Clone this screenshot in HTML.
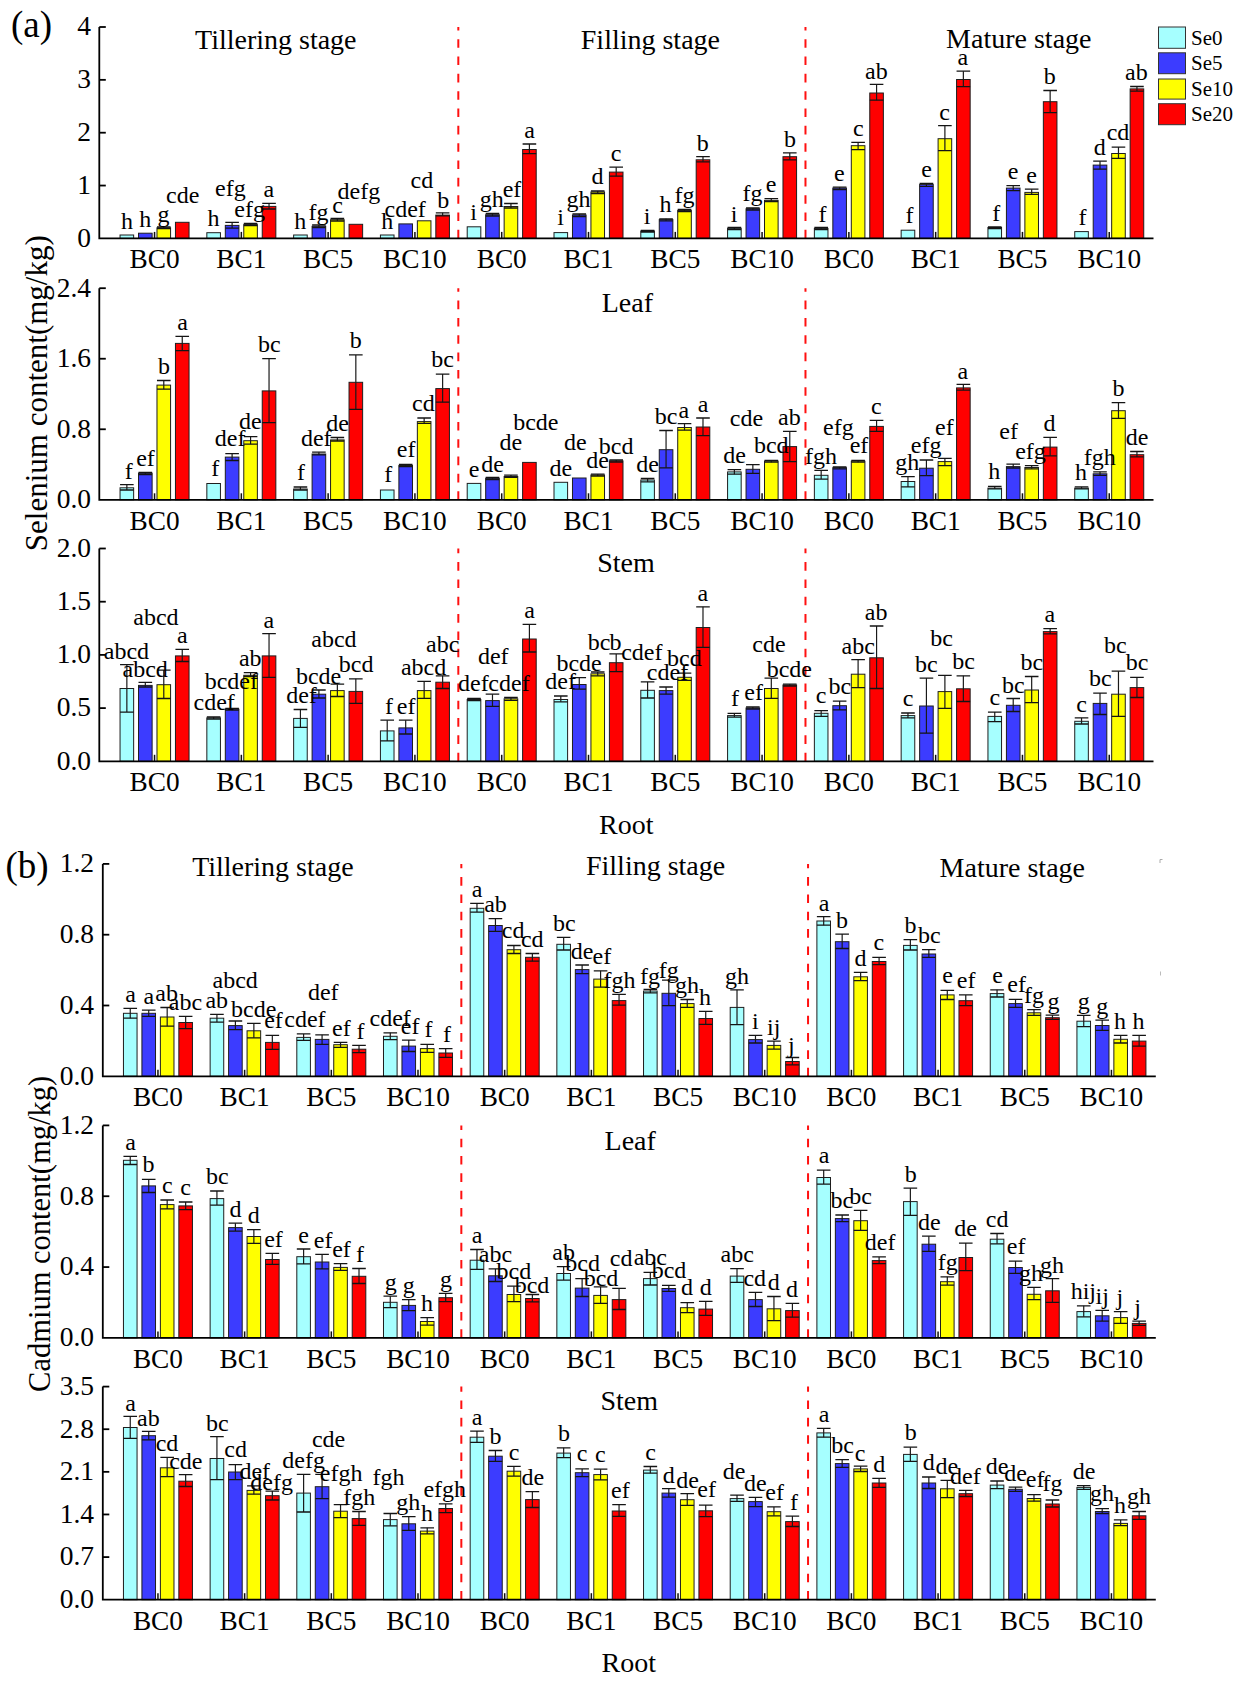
<!DOCTYPE html>
<html><head><meta charset="utf-8"><style>
html,body{margin:0;padding:0;background:#fff;width:1240px;height:1689px;overflow:hidden}
svg{display:block}
text{font-family:"Liberation Serif",serif;fill:#000}
</style></head><body>
<svg width="1240" height="1689" viewBox="0 0 1240 1689">
<rect width="1240" height="1689" fill="#fff"/>
<line x1="458.32" y1="238.4" x2="458.32" y2="27" stroke="#ff1010" stroke-width="2" stroke-dasharray="8.6 8.73"/>
<line x1="805.48" y1="238.4" x2="805.48" y2="27" stroke="#ff1010" stroke-width="2" stroke-dasharray="8.6 8.73"/>
<rect x="120.05" y="235" width="13.6" height="3.4" fill="#a6ffff" stroke="#1e1e1e" stroke-width="1"/>
<rect x="138.52" y="233.2" width="13.6" height="5.2" fill="#3c3cff" stroke="#1e1e1e" stroke-width="1"/>
<rect x="156.98" y="227.8" width="13.6" height="10.6" fill="#ffff00" stroke="#1e1e1e" stroke-width="1"/>
<rect x="175.45" y="222.3" width="13.6" height="16.1" fill="#ff0000" stroke="#1e1e1e" stroke-width="1"/>
<line x1="154.55" y1="231.9" x2="154.55" y2="238.4" stroke="#111" stroke-width="1.5"/>
<rect x="206.84" y="232.7" width="13.6" height="5.7" fill="#a6ffff" stroke="#1e1e1e" stroke-width="1"/>
<rect x="225.31" y="225.4" width="13.6" height="13" fill="#3c3cff" stroke="#1e1e1e" stroke-width="1"/>
<rect x="243.77" y="224.6" width="13.6" height="13.8" fill="#ffff00" stroke="#1e1e1e" stroke-width="1"/>
<rect x="262.24" y="206.4" width="13.6" height="32" fill="#ff0000" stroke="#1e1e1e" stroke-width="1"/>
<line x1="241.34" y1="231.9" x2="241.34" y2="238.4" stroke="#111" stroke-width="1.5"/>
<rect x="293.63" y="235" width="13.6" height="3.4" fill="#a6ffff" stroke="#1e1e1e" stroke-width="1"/>
<rect x="312.1" y="226.3" width="13.6" height="12.1" fill="#3c3cff" stroke="#1e1e1e" stroke-width="1"/>
<rect x="330.56" y="219.7" width="13.6" height="18.7" fill="#ffff00" stroke="#1e1e1e" stroke-width="1"/>
<rect x="349.03" y="224.3" width="13.6" height="14.1" fill="#ff0000" stroke="#1e1e1e" stroke-width="1"/>
<line x1="328.13" y1="231.9" x2="328.13" y2="238.4" stroke="#111" stroke-width="1.5"/>
<rect x="380.42" y="235" width="13.6" height="3.4" fill="#a6ffff" stroke="#1e1e1e" stroke-width="1"/>
<rect x="398.89" y="223.9" width="13.6" height="14.5" fill="#3c3cff" stroke="#1e1e1e" stroke-width="1"/>
<rect x="417.35" y="220.8" width="13.6" height="17.6" fill="#ffff00" stroke="#1e1e1e" stroke-width="1"/>
<rect x="435.82" y="215.1" width="13.6" height="23.3" fill="#ff0000" stroke="#1e1e1e" stroke-width="1"/>
<line x1="414.92" y1="231.9" x2="414.92" y2="238.4" stroke="#111" stroke-width="1.5"/>
<rect x="467.21" y="226.8" width="13.6" height="11.6" fill="#a6ffff" stroke="#1e1e1e" stroke-width="1"/>
<rect x="485.68" y="214.7" width="13.6" height="23.7" fill="#3c3cff" stroke="#1e1e1e" stroke-width="1"/>
<rect x="504.14" y="206.5" width="13.6" height="31.9" fill="#ffff00" stroke="#1e1e1e" stroke-width="1"/>
<rect x="522.61" y="149.5" width="13.6" height="88.9" fill="#ff0000" stroke="#1e1e1e" stroke-width="1"/>
<line x1="501.71" y1="231.9" x2="501.71" y2="238.4" stroke="#111" stroke-width="1.5"/>
<rect x="554" y="232.6" width="13.6" height="5.8" fill="#a6ffff" stroke="#1e1e1e" stroke-width="1"/>
<rect x="572.47" y="215" width="13.6" height="23.4" fill="#3c3cff" stroke="#1e1e1e" stroke-width="1"/>
<rect x="590.93" y="192" width="13.6" height="46.4" fill="#ffff00" stroke="#1e1e1e" stroke-width="1"/>
<rect x="609.4" y="172.1" width="13.6" height="66.3" fill="#ff0000" stroke="#1e1e1e" stroke-width="1"/>
<line x1="588.5" y1="231.9" x2="588.5" y2="238.4" stroke="#111" stroke-width="1.5"/>
<rect x="640.79" y="231.1" width="13.6" height="7.3" fill="#a6ffff" stroke="#1e1e1e" stroke-width="1"/>
<rect x="659.26" y="219.6" width="13.6" height="18.8" fill="#3c3cff" stroke="#1e1e1e" stroke-width="1"/>
<rect x="677.72" y="210.4" width="13.6" height="28" fill="#ffff00" stroke="#1e1e1e" stroke-width="1"/>
<rect x="696.19" y="159.8" width="13.6" height="78.6" fill="#ff0000" stroke="#1e1e1e" stroke-width="1"/>
<line x1="675.29" y1="231.9" x2="675.29" y2="238.4" stroke="#111" stroke-width="1.5"/>
<rect x="727.58" y="228.3" width="13.6" height="10.1" fill="#a6ffff" stroke="#1e1e1e" stroke-width="1"/>
<rect x="746.05" y="208.8" width="13.6" height="29.6" fill="#3c3cff" stroke="#1e1e1e" stroke-width="1"/>
<rect x="764.51" y="200.4" width="13.6" height="38" fill="#ffff00" stroke="#1e1e1e" stroke-width="1"/>
<rect x="782.98" y="156.7" width="13.6" height="81.7" fill="#ff0000" stroke="#1e1e1e" stroke-width="1"/>
<line x1="762.08" y1="231.9" x2="762.08" y2="238.4" stroke="#111" stroke-width="1.5"/>
<rect x="814.37" y="228.4" width="13.6" height="10" fill="#a6ffff" stroke="#1e1e1e" stroke-width="1"/>
<rect x="832.84" y="188.1" width="13.6" height="50.3" fill="#3c3cff" stroke="#1e1e1e" stroke-width="1"/>
<rect x="851.3" y="145.7" width="13.6" height="92.7" fill="#ffff00" stroke="#1e1e1e" stroke-width="1"/>
<rect x="869.77" y="93" width="13.6" height="145.4" fill="#ff0000" stroke="#1e1e1e" stroke-width="1"/>
<line x1="848.87" y1="231.9" x2="848.87" y2="238.4" stroke="#111" stroke-width="1.5"/>
<rect x="901.16" y="230.2" width="13.6" height="8.2" fill="#a6ffff" stroke="#1e1e1e" stroke-width="1"/>
<rect x="919.63" y="184.4" width="13.6" height="54" fill="#3c3cff" stroke="#1e1e1e" stroke-width="1"/>
<rect x="938.09" y="138.7" width="13.6" height="99.7" fill="#ffff00" stroke="#1e1e1e" stroke-width="1"/>
<rect x="956.56" y="79.5" width="13.6" height="158.9" fill="#ff0000" stroke="#1e1e1e" stroke-width="1"/>
<line x1="935.66" y1="231.9" x2="935.66" y2="238.4" stroke="#111" stroke-width="1.5"/>
<rect x="987.95" y="227.5" width="13.6" height="10.9" fill="#a6ffff" stroke="#1e1e1e" stroke-width="1"/>
<rect x="1006.42" y="188.1" width="13.6" height="50.3" fill="#3c3cff" stroke="#1e1e1e" stroke-width="1"/>
<rect x="1024.88" y="192.4" width="13.6" height="46" fill="#ffff00" stroke="#1e1e1e" stroke-width="1"/>
<rect x="1043.35" y="101.7" width="13.6" height="136.7" fill="#ff0000" stroke="#1e1e1e" stroke-width="1"/>
<line x1="1022.45" y1="231.9" x2="1022.45" y2="238.4" stroke="#111" stroke-width="1.5"/>
<rect x="1074.74" y="231.6" width="13.6" height="6.8" fill="#a6ffff" stroke="#1e1e1e" stroke-width="1"/>
<rect x="1093.21" y="165.1" width="13.6" height="73.3" fill="#3c3cff" stroke="#1e1e1e" stroke-width="1"/>
<rect x="1111.67" y="153.5" width="13.6" height="84.9" fill="#ffff00" stroke="#1e1e1e" stroke-width="1"/>
<rect x="1130.14" y="88.9" width="13.6" height="149.5" fill="#ff0000" stroke="#1e1e1e" stroke-width="1"/>
<line x1="1109.24" y1="231.9" x2="1109.24" y2="238.4" stroke="#111" stroke-width="1.5"/>
<path d="M163.78 227V228.6" stroke="#1a1a1a" stroke-width="1.2" fill="none"/>
<path d="M156.98 227H170.58M156.98 228.6H170.58" stroke="#141414" stroke-width="1.3" fill="none"/>
<path d="M232.11 222.3V228.1" stroke="#1a1a1a" stroke-width="1.2" fill="none"/>
<path d="M225.31 222.3H238.91M225.31 228.1H238.91" stroke="#141414" stroke-width="1.3" fill="none"/>
<path d="M250.57 223.5V225.5" stroke="#1a1a1a" stroke-width="1.2" fill="none"/>
<path d="M243.77 223.5H257.37M243.77 225.5H257.37" stroke="#141414" stroke-width="1.3" fill="none"/>
<path d="M269.04 203.3V209" stroke="#1a1a1a" stroke-width="1.2" fill="none"/>
<path d="M262.24 203.3H275.84M262.24 209H275.84" stroke="#141414" stroke-width="1.3" fill="none"/>
<path d="M318.9 225V227.5" stroke="#1a1a1a" stroke-width="1.2" fill="none"/>
<path d="M312.1 225H325.7M312.1 227.5H325.7" stroke="#141414" stroke-width="1.3" fill="none"/>
<path d="M337.36 218.5V221" stroke="#1a1a1a" stroke-width="1.2" fill="none"/>
<path d="M330.56 218.5H344.16M330.56 221H344.16" stroke="#141414" stroke-width="1.3" fill="none"/>
<path d="M442.62 212.8V215.9" stroke="#1a1a1a" stroke-width="1.2" fill="none"/>
<path d="M435.82 212.8H449.42M435.82 215.9H449.42" stroke="#141414" stroke-width="1.3" fill="none"/>
<path d="M492.48 213.5V216" stroke="#1a1a1a" stroke-width="1.2" fill="none"/>
<path d="M485.68 213.5H499.28M485.68 216H499.28" stroke="#141414" stroke-width="1.3" fill="none"/>
<path d="M510.94 203.5V208" stroke="#1a1a1a" stroke-width="1.2" fill="none"/>
<path d="M504.14 203.5H517.74M504.14 208H517.74" stroke="#141414" stroke-width="1.3" fill="none"/>
<path d="M529.41 144V153.7" stroke="#1a1a1a" stroke-width="1.2" fill="none"/>
<path d="M522.61 144H536.21M522.61 153.7H536.21" stroke="#141414" stroke-width="1.3" fill="none"/>
<path d="M579.27 214V216.5" stroke="#1a1a1a" stroke-width="1.2" fill="none"/>
<path d="M572.47 214H586.07M572.47 216.5H586.07" stroke="#141414" stroke-width="1.3" fill="none"/>
<path d="M597.73 191V193.5" stroke="#1a1a1a" stroke-width="1.2" fill="none"/>
<path d="M590.93 191H604.53M590.93 193.5H604.53" stroke="#141414" stroke-width="1.3" fill="none"/>
<path d="M616.2 167.2V176.2" stroke="#1a1a1a" stroke-width="1.2" fill="none"/>
<path d="M609.4 167.2H623M609.4 176.2H623" stroke="#141414" stroke-width="1.3" fill="none"/>
<path d="M647.59 230.5V232" stroke="#1a1a1a" stroke-width="1.2" fill="none"/>
<path d="M640.79 230.5H654.39M640.79 232H654.39" stroke="#141414" stroke-width="1.3" fill="none"/>
<path d="M666.06 218.8V220.8" stroke="#1a1a1a" stroke-width="1.2" fill="none"/>
<path d="M659.26 218.8H672.86M659.26 220.8H672.86" stroke="#141414" stroke-width="1.3" fill="none"/>
<path d="M684.52 209.5V211.5" stroke="#1a1a1a" stroke-width="1.2" fill="none"/>
<path d="M677.72 209.5H691.32M677.72 211.5H691.32" stroke="#141414" stroke-width="1.3" fill="none"/>
<path d="M702.99 156.7V161.8" stroke="#1a1a1a" stroke-width="1.2" fill="none"/>
<path d="M696.19 156.7H709.79M696.19 161.8H709.79" stroke="#141414" stroke-width="1.3" fill="none"/>
<path d="M734.38 227.5V229.5" stroke="#1a1a1a" stroke-width="1.2" fill="none"/>
<path d="M727.58 227.5H741.18M727.58 229.5H741.18" stroke="#141414" stroke-width="1.3" fill="none"/>
<path d="M752.85 208V210" stroke="#1a1a1a" stroke-width="1.2" fill="none"/>
<path d="M746.05 208H759.65M746.05 210H759.65" stroke="#141414" stroke-width="1.3" fill="none"/>
<path d="M771.31 198.6V201.6" stroke="#1a1a1a" stroke-width="1.2" fill="none"/>
<path d="M764.51 198.6H778.11M764.51 201.6H778.11" stroke="#141414" stroke-width="1.3" fill="none"/>
<path d="M789.78 152.9V159.8" stroke="#1a1a1a" stroke-width="1.2" fill="none"/>
<path d="M782.98 152.9H796.58M782.98 159.8H796.58" stroke="#141414" stroke-width="1.3" fill="none"/>
<path d="M821.17 227.5V229.5" stroke="#1a1a1a" stroke-width="1.2" fill="none"/>
<path d="M814.37 227.5H827.97M814.37 229.5H827.97" stroke="#141414" stroke-width="1.3" fill="none"/>
<path d="M839.64 187.2V189.5" stroke="#1a1a1a" stroke-width="1.2" fill="none"/>
<path d="M832.84 187.2H846.44M832.84 189.5H846.44" stroke="#141414" stroke-width="1.3" fill="none"/>
<path d="M858.1 142.3V149.6" stroke="#1a1a1a" stroke-width="1.2" fill="none"/>
<path d="M851.3 142.3H864.9M851.3 149.6H864.9" stroke="#141414" stroke-width="1.3" fill="none"/>
<path d="M876.57 84.3V100.2" stroke="#1a1a1a" stroke-width="1.2" fill="none"/>
<path d="M869.77 84.3H883.37M869.77 100.2H883.37" stroke="#141414" stroke-width="1.3" fill="none"/>
<path d="M926.43 183.4V186.3" stroke="#1a1a1a" stroke-width="1.2" fill="none"/>
<path d="M919.63 183.4H933.23M919.63 186.3H933.23" stroke="#141414" stroke-width="1.3" fill="none"/>
<path d="M944.89 125.6V150.6" stroke="#1a1a1a" stroke-width="1.2" fill="none"/>
<path d="M938.09 125.6H951.69M938.09 150.6H951.69" stroke="#141414" stroke-width="1.3" fill="none"/>
<path d="M963.36 71.2V86.7" stroke="#1a1a1a" stroke-width="1.2" fill="none"/>
<path d="M956.56 71.2H970.16M956.56 86.7H970.16" stroke="#141414" stroke-width="1.3" fill="none"/>
<path d="M994.75 227V228.5" stroke="#1a1a1a" stroke-width="1.2" fill="none"/>
<path d="M987.95 227H1001.55M987.95 228.5H1001.55" stroke="#141414" stroke-width="1.3" fill="none"/>
<path d="M1013.22 185.6V190.7" stroke="#1a1a1a" stroke-width="1.2" fill="none"/>
<path d="M1006.42 185.6H1020.02M1006.42 190.7H1020.02" stroke="#141414" stroke-width="1.3" fill="none"/>
<path d="M1031.68 189.2V194.3" stroke="#1a1a1a" stroke-width="1.2" fill="none"/>
<path d="M1024.88 189.2H1038.48M1024.88 194.3H1038.48" stroke="#141414" stroke-width="1.3" fill="none"/>
<path d="M1050.15 90.5V112.6" stroke="#1a1a1a" stroke-width="1.2" fill="none"/>
<path d="M1043.35 90.5H1056.95M1043.35 112.6H1056.95" stroke="#141414" stroke-width="1.3" fill="none"/>
<path d="M1100.01 161.2V169.2" stroke="#1a1a1a" stroke-width="1.2" fill="none"/>
<path d="M1093.21 161.2H1106.81M1093.21 169.2H1106.81" stroke="#141414" stroke-width="1.3" fill="none"/>
<path d="M1118.47 147.1V158.3" stroke="#1a1a1a" stroke-width="1.2" fill="none"/>
<path d="M1111.67 147.1H1125.27M1111.67 158.3H1125.27" stroke="#141414" stroke-width="1.3" fill="none"/>
<path d="M1136.94 86.5V91.1" stroke="#1a1a1a" stroke-width="1.2" fill="none"/>
<path d="M1130.14 86.5H1143.74M1130.14 91.1H1143.74" stroke="#141414" stroke-width="1.3" fill="none"/>
<text x="127" y="228.5" font-size="24" text-anchor="middle">h</text>
<text x="145.2" y="226.6" font-size="24" text-anchor="middle">h</text>
<text x="163.6" y="222" font-size="24" text-anchor="middle">g</text>
<text x="182.7" y="202.9" font-size="24" text-anchor="middle">cde</text>
<text x="213.4" y="226.3" font-size="24" text-anchor="middle">h</text>
<text x="230.4" y="196" font-size="24" text-anchor="middle">efg</text>
<text x="249.6" y="217.4" font-size="24" text-anchor="middle">efg</text>
<text x="268.9" y="196.7" font-size="24" text-anchor="middle">a</text>
<text x="300.2" y="228.9" font-size="24" text-anchor="middle">h</text>
<text x="318.6" y="219.7" font-size="24" text-anchor="middle">fg</text>
<text x="337.5" y="212.8" font-size="24" text-anchor="middle">c</text>
<text x="358.9" y="198.7" font-size="24" text-anchor="middle">defg</text>
<text x="387.3" y="228.9" font-size="24" text-anchor="middle">h</text>
<text x="405.2" y="217.4" font-size="24" text-anchor="middle">cdef</text>
<text x="421.9" y="187.5" font-size="24" text-anchor="middle">cd</text>
<text x="443.2" y="207.5" font-size="24" text-anchor="middle">b</text>
<text x="473.7" y="219.6" font-size="24" text-anchor="middle">i</text>
<text x="491.8" y="207.3" font-size="24" text-anchor="middle">gh</text>
<text x="512" y="197.3" font-size="24" text-anchor="middle">ef</text>
<text x="529.6" y="137.6" font-size="24" text-anchor="middle">a</text>
<text x="560.7" y="224.9" font-size="24" text-anchor="middle">i</text>
<text x="578.4" y="207.3" font-size="24" text-anchor="middle">gh</text>
<text x="597.5" y="184.3" font-size="24" text-anchor="middle">d</text>
<text x="616.2" y="160.6" font-size="24" text-anchor="middle">c</text>
<text x="647.2" y="224.2" font-size="24" text-anchor="middle">i</text>
<text x="665.5" y="212.4" font-size="24" text-anchor="middle">h</text>
<text x="684.4" y="202.7" font-size="24" text-anchor="middle">fg</text>
<text x="702.8" y="151.4" font-size="24" text-anchor="middle">b</text>
<text x="734.2" y="221.9" font-size="24" text-anchor="middle">i</text>
<text x="752.6" y="201.2" font-size="24" text-anchor="middle">fg</text>
<text x="771" y="192" font-size="24" text-anchor="middle">e</text>
<text x="790.1" y="146.8" font-size="24" text-anchor="middle">b</text>
<text x="822.4" y="222.2" font-size="24" text-anchor="middle">f</text>
<text x="839.4" y="181.1" font-size="24" text-anchor="middle">e</text>
<text x="858.3" y="135.8" font-size="24" text-anchor="middle">c</text>
<text x="876.4" y="78.5" font-size="24" text-anchor="middle">ab</text>
<text x="909.5" y="223.2" font-size="24" text-anchor="middle">f</text>
<text x="926.5" y="177.2" font-size="24" text-anchor="middle">e</text>
<text x="944.6" y="119.8" font-size="24" text-anchor="middle">c</text>
<text x="962.8" y="65" font-size="24" text-anchor="middle">a</text>
<text x="996.3" y="220.7" font-size="24" text-anchor="middle">f</text>
<text x="1013" y="179.4" font-size="24" text-anchor="middle">e</text>
<text x="1031.6" y="183" font-size="24" text-anchor="middle">e</text>
<text x="1049.8" y="83.5" font-size="24" text-anchor="middle">b</text>
<text x="1082.4" y="225" font-size="24" text-anchor="middle">f</text>
<text x="1099.8" y="154.7" font-size="24" text-anchor="middle">d</text>
<text x="1118" y="140.2" font-size="24" text-anchor="middle">cd</text>
<text x="1136.4" y="79.9" font-size="24" text-anchor="middle">ab</text>
<path d="M99.3 27V238.4H1153.5" stroke="#000" stroke-width="1.8" fill="none"/>
<text x="91" y="246.7" font-size="27.5" text-anchor="end">0</text>
<line x1="99.3" y1="185.55" x2="105.8" y2="185.55" stroke="#000" stroke-width="1.8"/>
<text x="91" y="193.85" font-size="27.5" text-anchor="end">1</text>
<line x1="99.3" y1="132.7" x2="105.8" y2="132.7" stroke="#000" stroke-width="1.8"/>
<text x="91" y="141" font-size="27.5" text-anchor="end">2</text>
<line x1="99.3" y1="79.85" x2="105.8" y2="79.85" stroke="#000" stroke-width="1.8"/>
<text x="91" y="88.15" font-size="27.5" text-anchor="end">3</text>
<line x1="99.3" y1="27" x2="105.8" y2="27" stroke="#000" stroke-width="1.8"/>
<text x="91" y="35.3" font-size="27.5" text-anchor="end">4</text>
<text x="154.55" y="268.2" font-size="27.3" text-anchor="middle">BC0</text>
<text x="241.34" y="268.2" font-size="27.3" text-anchor="middle">BC1</text>
<text x="328.13" y="268.2" font-size="27.3" text-anchor="middle">BC5</text>
<text x="414.92" y="268.2" font-size="27.3" text-anchor="middle">BC10</text>
<text x="501.71" y="268.2" font-size="27.3" text-anchor="middle">BC0</text>
<text x="588.5" y="268.2" font-size="27.3" text-anchor="middle">BC1</text>
<text x="675.29" y="268.2" font-size="27.3" text-anchor="middle">BC5</text>
<text x="762.08" y="268.2" font-size="27.3" text-anchor="middle">BC10</text>
<text x="848.87" y="268.2" font-size="27.3" text-anchor="middle">BC0</text>
<text x="935.66" y="268.2" font-size="27.3" text-anchor="middle">BC1</text>
<text x="1022.45" y="268.2" font-size="27.3" text-anchor="middle">BC5</text>
<text x="1109.24" y="268.2" font-size="27.3" text-anchor="middle">BC10</text>
<line x1="458.32" y1="499.8" x2="458.32" y2="288.2" stroke="#ff1010" stroke-width="2" stroke-dasharray="8.6 8.73"/>
<line x1="805.48" y1="499.8" x2="805.48" y2="288.2" stroke="#ff1010" stroke-width="2" stroke-dasharray="8.6 8.73"/>
<rect x="120.05" y="487.8" width="13.6" height="12" fill="#a6ffff" stroke="#1e1e1e" stroke-width="1"/>
<rect x="138.52" y="473.2" width="13.6" height="26.6" fill="#3c3cff" stroke="#1e1e1e" stroke-width="1"/>
<rect x="156.98" y="385.1" width="13.6" height="114.7" fill="#ffff00" stroke="#1e1e1e" stroke-width="1"/>
<rect x="175.45" y="343.4" width="13.6" height="156.4" fill="#ff0000" stroke="#1e1e1e" stroke-width="1"/>
<line x1="154.55" y1="493.3" x2="154.55" y2="499.8" stroke="#111" stroke-width="1.5"/>
<rect x="206.84" y="483.5" width="13.6" height="16.3" fill="#a6ffff" stroke="#1e1e1e" stroke-width="1"/>
<rect x="225.31" y="457.1" width="13.6" height="42.7" fill="#3c3cff" stroke="#1e1e1e" stroke-width="1"/>
<rect x="243.77" y="440.7" width="13.6" height="59.1" fill="#ffff00" stroke="#1e1e1e" stroke-width="1"/>
<rect x="262.24" y="390.9" width="13.6" height="108.9" fill="#ff0000" stroke="#1e1e1e" stroke-width="1"/>
<line x1="241.34" y1="493.3" x2="241.34" y2="499.8" stroke="#111" stroke-width="1.5"/>
<rect x="293.63" y="489" width="13.6" height="10.8" fill="#a6ffff" stroke="#1e1e1e" stroke-width="1"/>
<rect x="312.1" y="454" width="13.6" height="45.8" fill="#3c3cff" stroke="#1e1e1e" stroke-width="1"/>
<rect x="330.56" y="439.9" width="13.6" height="59.9" fill="#ffff00" stroke="#1e1e1e" stroke-width="1"/>
<rect x="349.03" y="382.3" width="13.6" height="117.5" fill="#ff0000" stroke="#1e1e1e" stroke-width="1"/>
<line x1="328.13" y1="493.3" x2="328.13" y2="499.8" stroke="#111" stroke-width="1.5"/>
<rect x="380.42" y="490" width="13.6" height="9.8" fill="#a6ffff" stroke="#1e1e1e" stroke-width="1"/>
<rect x="398.89" y="465.5" width="13.6" height="34.3" fill="#3c3cff" stroke="#1e1e1e" stroke-width="1"/>
<rect x="417.35" y="421.6" width="13.6" height="78.2" fill="#ffff00" stroke="#1e1e1e" stroke-width="1"/>
<rect x="435.82" y="388.6" width="13.6" height="111.2" fill="#ff0000" stroke="#1e1e1e" stroke-width="1"/>
<line x1="414.92" y1="493.3" x2="414.92" y2="499.8" stroke="#111" stroke-width="1.5"/>
<rect x="467.21" y="483.4" width="13.6" height="16.4" fill="#a6ffff" stroke="#1e1e1e" stroke-width="1"/>
<rect x="485.68" y="478.3" width="13.6" height="21.5" fill="#3c3cff" stroke="#1e1e1e" stroke-width="1"/>
<rect x="504.14" y="476.5" width="13.6" height="23.3" fill="#ffff00" stroke="#1e1e1e" stroke-width="1"/>
<rect x="522.61" y="462.4" width="13.6" height="37.4" fill="#ff0000" stroke="#1e1e1e" stroke-width="1"/>
<line x1="501.71" y1="493.3" x2="501.71" y2="499.8" stroke="#111" stroke-width="1.5"/>
<rect x="554" y="482.3" width="13.6" height="17.5" fill="#a6ffff" stroke="#1e1e1e" stroke-width="1"/>
<rect x="572.47" y="478" width="13.6" height="21.8" fill="#3c3cff" stroke="#1e1e1e" stroke-width="1"/>
<rect x="590.93" y="475" width="13.6" height="24.8" fill="#ffff00" stroke="#1e1e1e" stroke-width="1"/>
<rect x="609.4" y="460.9" width="13.6" height="38.9" fill="#ff0000" stroke="#1e1e1e" stroke-width="1"/>
<line x1="588.5" y1="493.3" x2="588.5" y2="499.8" stroke="#111" stroke-width="1.5"/>
<rect x="640.79" y="480" width="13.6" height="19.8" fill="#a6ffff" stroke="#1e1e1e" stroke-width="1"/>
<rect x="659.26" y="449.7" width="13.6" height="50.1" fill="#3c3cff" stroke="#1e1e1e" stroke-width="1"/>
<rect x="677.72" y="427.5" width="13.6" height="72.3" fill="#ffff00" stroke="#1e1e1e" stroke-width="1"/>
<rect x="696.19" y="427" width="13.6" height="72.8" fill="#ff0000" stroke="#1e1e1e" stroke-width="1"/>
<line x1="675.29" y1="493.3" x2="675.29" y2="499.8" stroke="#111" stroke-width="1.5"/>
<rect x="727.58" y="471.9" width="13.6" height="27.9" fill="#a6ffff" stroke="#1e1e1e" stroke-width="1"/>
<rect x="746.05" y="469.3" width="13.6" height="30.5" fill="#3c3cff" stroke="#1e1e1e" stroke-width="1"/>
<rect x="764.51" y="461.2" width="13.6" height="38.6" fill="#ffff00" stroke="#1e1e1e" stroke-width="1"/>
<rect x="782.98" y="446.6" width="13.6" height="53.2" fill="#ff0000" stroke="#1e1e1e" stroke-width="1"/>
<line x1="762.08" y1="493.3" x2="762.08" y2="499.8" stroke="#111" stroke-width="1.5"/>
<rect x="814.37" y="475.3" width="13.6" height="24.5" fill="#a6ffff" stroke="#1e1e1e" stroke-width="1"/>
<rect x="832.84" y="467.7" width="13.6" height="32.1" fill="#3c3cff" stroke="#1e1e1e" stroke-width="1"/>
<rect x="851.3" y="461.2" width="13.6" height="38.6" fill="#ffff00" stroke="#1e1e1e" stroke-width="1"/>
<rect x="869.77" y="426.4" width="13.6" height="73.4" fill="#ff0000" stroke="#1e1e1e" stroke-width="1"/>
<line x1="848.87" y1="493.3" x2="848.87" y2="499.8" stroke="#111" stroke-width="1.5"/>
<rect x="901.16" y="481.5" width="13.6" height="18.3" fill="#a6ffff" stroke="#1e1e1e" stroke-width="1"/>
<rect x="919.63" y="468.2" width="13.6" height="31.6" fill="#3c3cff" stroke="#1e1e1e" stroke-width="1"/>
<rect x="938.09" y="461.6" width="13.6" height="38.2" fill="#ffff00" stroke="#1e1e1e" stroke-width="1"/>
<rect x="956.56" y="387.9" width="13.6" height="111.9" fill="#ff0000" stroke="#1e1e1e" stroke-width="1"/>
<line x1="935.66" y1="493.3" x2="935.66" y2="499.8" stroke="#111" stroke-width="1.5"/>
<rect x="987.95" y="488.1" width="13.6" height="11.7" fill="#a6ffff" stroke="#1e1e1e" stroke-width="1"/>
<rect x="1006.42" y="466.6" width="13.6" height="33.2" fill="#3c3cff" stroke="#1e1e1e" stroke-width="1"/>
<rect x="1024.88" y="467.5" width="13.6" height="32.3" fill="#ffff00" stroke="#1e1e1e" stroke-width="1"/>
<rect x="1043.35" y="447.1" width="13.6" height="52.7" fill="#ff0000" stroke="#1e1e1e" stroke-width="1"/>
<line x1="1022.45" y1="493.3" x2="1022.45" y2="499.8" stroke="#111" stroke-width="1.5"/>
<rect x="1074.74" y="488.1" width="13.6" height="11.7" fill="#a6ffff" stroke="#1e1e1e" stroke-width="1"/>
<rect x="1093.21" y="473.8" width="13.6" height="26" fill="#3c3cff" stroke="#1e1e1e" stroke-width="1"/>
<rect x="1111.67" y="410.7" width="13.6" height="89.1" fill="#ffff00" stroke="#1e1e1e" stroke-width="1"/>
<rect x="1130.14" y="454.7" width="13.6" height="45.1" fill="#ff0000" stroke="#1e1e1e" stroke-width="1"/>
<line x1="1109.24" y1="493.3" x2="1109.24" y2="499.8" stroke="#111" stroke-width="1.5"/>
<path d="M126.85 484.7V490" stroke="#1a1a1a" stroke-width="1.2" fill="none"/>
<path d="M120.05 484.7H133.65M120.05 490H133.65" stroke="#141414" stroke-width="1.3" fill="none"/>
<path d="M145.32 472.5V474.5" stroke="#1a1a1a" stroke-width="1.2" fill="none"/>
<path d="M138.52 472.5H152.12M138.52 474.5H152.12" stroke="#141414" stroke-width="1.3" fill="none"/>
<path d="M163.78 380.5V389.2" stroke="#1a1a1a" stroke-width="1.2" fill="none"/>
<path d="M156.98 380.5H170.58M156.98 389.2H170.58" stroke="#141414" stroke-width="1.3" fill="none"/>
<path d="M182.25 336.4V350.6" stroke="#1a1a1a" stroke-width="1.2" fill="none"/>
<path d="M175.45 336.4H189.05M175.45 350.6H189.05" stroke="#141414" stroke-width="1.3" fill="none"/>
<path d="M232.11 453.7V460.5" stroke="#1a1a1a" stroke-width="1.2" fill="none"/>
<path d="M225.31 453.7H238.91M225.31 460.5H238.91" stroke="#141414" stroke-width="1.3" fill="none"/>
<path d="M250.57 436.6V444.2" stroke="#1a1a1a" stroke-width="1.2" fill="none"/>
<path d="M243.77 436.6H257.37M243.77 444.2H257.37" stroke="#141414" stroke-width="1.3" fill="none"/>
<path d="M269.04 358.7V422.6" stroke="#1a1a1a" stroke-width="1.2" fill="none"/>
<path d="M262.24 358.7H275.84M262.24 422.6H275.84" stroke="#141414" stroke-width="1.3" fill="none"/>
<path d="M300.43 487V490" stroke="#1a1a1a" stroke-width="1.2" fill="none"/>
<path d="M293.63 487H307.23M293.63 490H307.23" stroke="#141414" stroke-width="1.3" fill="none"/>
<path d="M318.9 452.2V454.8" stroke="#1a1a1a" stroke-width="1.2" fill="none"/>
<path d="M312.1 452.2H325.7M312.1 454.8H325.7" stroke="#141414" stroke-width="1.3" fill="none"/>
<path d="M337.36 437.5V441" stroke="#1a1a1a" stroke-width="1.2" fill="none"/>
<path d="M330.56 437.5H344.16M330.56 441H344.16" stroke="#141414" stroke-width="1.3" fill="none"/>
<path d="M355.83 354.9V409.3" stroke="#1a1a1a" stroke-width="1.2" fill="none"/>
<path d="M349.03 354.9H362.63M349.03 409.3H362.63" stroke="#141414" stroke-width="1.3" fill="none"/>
<path d="M405.69 464.5V466.6" stroke="#1a1a1a" stroke-width="1.2" fill="none"/>
<path d="M398.89 464.5H412.49M398.89 466.6H412.49" stroke="#141414" stroke-width="1.3" fill="none"/>
<path d="M424.15 418V423.4" stroke="#1a1a1a" stroke-width="1.2" fill="none"/>
<path d="M417.35 418H430.95M417.35 423.4H430.95" stroke="#141414" stroke-width="1.3" fill="none"/>
<path d="M442.62 374.1V402.2" stroke="#1a1a1a" stroke-width="1.2" fill="none"/>
<path d="M435.82 374.1H449.42M435.82 402.2H449.42" stroke="#141414" stroke-width="1.3" fill="none"/>
<path d="M492.48 477.5V479.5" stroke="#1a1a1a" stroke-width="1.2" fill="none"/>
<path d="M485.68 477.5H499.28M485.68 479.5H499.28" stroke="#141414" stroke-width="1.3" fill="none"/>
<path d="M510.94 475.1V477.3" stroke="#1a1a1a" stroke-width="1.2" fill="none"/>
<path d="M504.14 475.1H517.74M504.14 477.3H517.74" stroke="#141414" stroke-width="1.3" fill="none"/>
<path d="M597.73 474.2V476" stroke="#1a1a1a" stroke-width="1.2" fill="none"/>
<path d="M590.93 474.2H604.53M590.93 476H604.53" stroke="#141414" stroke-width="1.3" fill="none"/>
<path d="M616.2 460V462" stroke="#1a1a1a" stroke-width="1.2" fill="none"/>
<path d="M609.4 460H623M609.4 462H623" stroke="#141414" stroke-width="1.3" fill="none"/>
<path d="M647.59 478.5V481.9" stroke="#1a1a1a" stroke-width="1.2" fill="none"/>
<path d="M640.79 478.5H654.39M640.79 481.9H654.39" stroke="#141414" stroke-width="1.3" fill="none"/>
<path d="M666.06 430.5V467.8" stroke="#1a1a1a" stroke-width="1.2" fill="none"/>
<path d="M659.26 430.5H672.86M659.26 467.8H672.86" stroke="#141414" stroke-width="1.3" fill="none"/>
<path d="M684.52 423.6V430.2" stroke="#1a1a1a" stroke-width="1.2" fill="none"/>
<path d="M677.72 423.6H691.32M677.72 430.2H691.32" stroke="#141414" stroke-width="1.3" fill="none"/>
<path d="M702.99 418V435.6" stroke="#1a1a1a" stroke-width="1.2" fill="none"/>
<path d="M696.19 418H709.79M696.19 435.6H709.79" stroke="#141414" stroke-width="1.3" fill="none"/>
<path d="M734.38 469.6V474.2" stroke="#1a1a1a" stroke-width="1.2" fill="none"/>
<path d="M727.58 469.6H741.18M727.58 474.2H741.18" stroke="#141414" stroke-width="1.3" fill="none"/>
<path d="M752.85 464.7V473.4" stroke="#1a1a1a" stroke-width="1.2" fill="none"/>
<path d="M746.05 464.7H759.65M746.05 473.4H759.65" stroke="#141414" stroke-width="1.3" fill="none"/>
<path d="M771.31 460.3V462.2" stroke="#1a1a1a" stroke-width="1.2" fill="none"/>
<path d="M764.51 460.3H778.11M764.51 462.2H778.11" stroke="#141414" stroke-width="1.3" fill="none"/>
<path d="M789.78 431.3V461.6" stroke="#1a1a1a" stroke-width="1.2" fill="none"/>
<path d="M782.98 431.3H796.58M782.98 461.6H796.58" stroke="#141414" stroke-width="1.3" fill="none"/>
<path d="M821.17 470.4V479.1" stroke="#1a1a1a" stroke-width="1.2" fill="none"/>
<path d="M814.37 470.4H827.97M814.37 479.1H827.97" stroke="#141414" stroke-width="1.3" fill="none"/>
<path d="M839.64 467V468.8" stroke="#1a1a1a" stroke-width="1.2" fill="none"/>
<path d="M832.84 467H846.44M832.84 468.8H846.44" stroke="#141414" stroke-width="1.3" fill="none"/>
<path d="M858.1 460.3V462.2" stroke="#1a1a1a" stroke-width="1.2" fill="none"/>
<path d="M851.3 460.3H864.9M851.3 462.2H864.9" stroke="#141414" stroke-width="1.3" fill="none"/>
<path d="M876.57 420.3V431.4" stroke="#1a1a1a" stroke-width="1.2" fill="none"/>
<path d="M869.77 420.3H883.37M869.77 431.4H883.37" stroke="#141414" stroke-width="1.3" fill="none"/>
<path d="M907.96 476.7V486.9" stroke="#1a1a1a" stroke-width="1.2" fill="none"/>
<path d="M901.16 476.7H914.76M901.16 486.9H914.76" stroke="#141414" stroke-width="1.3" fill="none"/>
<path d="M926.43 460V475.7" stroke="#1a1a1a" stroke-width="1.2" fill="none"/>
<path d="M919.63 460H933.23M919.63 475.7H933.23" stroke="#141414" stroke-width="1.3" fill="none"/>
<path d="M944.89 458.3V465.6" stroke="#1a1a1a" stroke-width="1.2" fill="none"/>
<path d="M938.09 458.3H951.69M938.09 465.6H951.69" stroke="#141414" stroke-width="1.3" fill="none"/>
<path d="M963.36 384.3V390.1" stroke="#1a1a1a" stroke-width="1.2" fill="none"/>
<path d="M956.56 384.3H970.16M956.56 390.1H970.16" stroke="#141414" stroke-width="1.3" fill="none"/>
<path d="M994.75 486.3V488.8" stroke="#1a1a1a" stroke-width="1.2" fill="none"/>
<path d="M987.95 486.3H1001.55M987.95 488.8H1001.55" stroke="#141414" stroke-width="1.3" fill="none"/>
<path d="M1013.22 464.1V468" stroke="#1a1a1a" stroke-width="1.2" fill="none"/>
<path d="M1006.42 464.1H1020.02M1006.42 468H1020.02" stroke="#141414" stroke-width="1.3" fill="none"/>
<path d="M1031.68 465.6V468.8" stroke="#1a1a1a" stroke-width="1.2" fill="none"/>
<path d="M1024.88 465.6H1038.48M1024.88 468.8H1038.48" stroke="#141414" stroke-width="1.3" fill="none"/>
<path d="M1050.15 437.3V455.8" stroke="#1a1a1a" stroke-width="1.2" fill="none"/>
<path d="M1043.35 437.3H1056.95M1043.35 455.8H1056.95" stroke="#141414" stroke-width="1.3" fill="none"/>
<path d="M1081.54 486.9V488.8" stroke="#1a1a1a" stroke-width="1.2" fill="none"/>
<path d="M1074.74 486.9H1088.34M1074.74 488.8H1088.34" stroke="#141414" stroke-width="1.3" fill="none"/>
<path d="M1100.01 471.8V475.3" stroke="#1a1a1a" stroke-width="1.2" fill="none"/>
<path d="M1093.21 471.8H1106.81M1093.21 475.3H1106.81" stroke="#141414" stroke-width="1.3" fill="none"/>
<path d="M1118.47 402.7V418.4" stroke="#1a1a1a" stroke-width="1.2" fill="none"/>
<path d="M1111.67 402.7H1125.27M1111.67 418.4H1125.27" stroke="#141414" stroke-width="1.3" fill="none"/>
<path d="M1136.94 451.5V456.9" stroke="#1a1a1a" stroke-width="1.2" fill="none"/>
<path d="M1130.14 451.5H1143.74M1130.14 456.9H1143.74" stroke="#141414" stroke-width="1.3" fill="none"/>
<text x="128.7" y="478.6" font-size="24" text-anchor="middle">f</text>
<text x="145.5" y="465.5" font-size="24" text-anchor="middle">ef</text>
<text x="163.9" y="374" font-size="24" text-anchor="middle">b</text>
<text x="182.7" y="330.4" font-size="24" text-anchor="middle">a</text>
<text x="215.2" y="476.3" font-size="24" text-anchor="middle">f</text>
<text x="230.1" y="446.4" font-size="24" text-anchor="middle">def</text>
<text x="250.3" y="428.8" font-size="24" text-anchor="middle">de</text>
<text x="269.3" y="351.7" font-size="24" text-anchor="middle">bc</text>
<text x="301" y="480.1" font-size="24" text-anchor="middle">f</text>
<text x="316.3" y="445.6" font-size="24" text-anchor="middle">def</text>
<text x="337.5" y="431" font-size="24" text-anchor="middle">de</text>
<text x="355.7" y="347.5" font-size="24" text-anchor="middle">b</text>
<text x="388.3" y="482.4" font-size="24" text-anchor="middle">f</text>
<text x="406.1" y="457.1" font-size="24" text-anchor="middle">ef</text>
<text x="423.4" y="411.1" font-size="24" text-anchor="middle">cd</text>
<text x="442.7" y="366.7" font-size="24" text-anchor="middle">bc</text>
<text x="474.2" y="476.5" font-size="24" text-anchor="middle">e</text>
<text x="492.5" y="471.9" font-size="24" text-anchor="middle">de</text>
<text x="510.9" y="450" font-size="24" text-anchor="middle">de</text>
<text x="535.8" y="429.5" font-size="24" text-anchor="middle">bcde</text>
<text x="560.9" y="475.7" font-size="24" text-anchor="middle">de</text>
<text x="575.3" y="450" font-size="24" text-anchor="middle">de</text>
<text x="597.7" y="468" font-size="24" text-anchor="middle">de</text>
<text x="616.2" y="453.5" font-size="24" text-anchor="middle">bcd</text>
<text x="647.6" y="471.9" font-size="24" text-anchor="middle">de</text>
<text x="666" y="424.4" font-size="24" text-anchor="middle">bc</text>
<text x="683.9" y="417.5" font-size="24" text-anchor="middle">a</text>
<text x="703.1" y="411.7" font-size="24" text-anchor="middle">a</text>
<text x="734.5" y="462.7" font-size="24" text-anchor="middle">de</text>
<text x="746.5" y="425.9" font-size="24" text-anchor="middle">cde</text>
<text x="771.3" y="452.7" font-size="24" text-anchor="middle">bcd</text>
<text x="789.4" y="424.9" font-size="24" text-anchor="middle">ab</text>
<text x="821" y="463.7" font-size="24" text-anchor="middle">fgh</text>
<text x="838.4" y="435.1" font-size="24" text-anchor="middle">efg</text>
<text x="859" y="453.2" font-size="24" text-anchor="middle">ef</text>
<text x="876.4" y="414" font-size="24" text-anchor="middle">c</text>
<text x="907.3" y="469.9" font-size="24" text-anchor="middle">gh</text>
<text x="926.2" y="452.5" font-size="24" text-anchor="middle">efg</text>
<text x="944.4" y="435.1" font-size="24" text-anchor="middle">ef</text>
<text x="962.8" y="378.5" font-size="24" text-anchor="middle">a</text>
<text x="994.2" y="479.4" font-size="24" text-anchor="middle">h</text>
<text x="1008.7" y="439.4" font-size="24" text-anchor="middle">ef</text>
<text x="1030.5" y="459" font-size="24" text-anchor="middle">efg</text>
<text x="1049.6" y="430.7" font-size="24" text-anchor="middle">d</text>
<text x="1081.1" y="479.6" font-size="24" text-anchor="middle">h</text>
<text x="1099.7" y="464.8" font-size="24" text-anchor="middle">fgh</text>
<text x="1118.4" y="395.9" font-size="24" text-anchor="middle">b</text>
<text x="1137.1" y="444.5" font-size="24" text-anchor="middle">de</text>
<path d="M99.3 288.2V499.8H1153.5" stroke="#000" stroke-width="1.8" fill="none"/>
<text x="91" y="508.1" font-size="27.5" text-anchor="end">0.0</text>
<line x1="99.3" y1="429.27" x2="105.8" y2="429.27" stroke="#000" stroke-width="1.8"/>
<text x="91" y="437.57" font-size="27.5" text-anchor="end">0.8</text>
<line x1="99.3" y1="358.73" x2="105.8" y2="358.73" stroke="#000" stroke-width="1.8"/>
<text x="91" y="367.03" font-size="27.5" text-anchor="end">1.6</text>
<line x1="99.3" y1="288.2" x2="105.8" y2="288.2" stroke="#000" stroke-width="1.8"/>
<text x="91" y="296.5" font-size="27.5" text-anchor="end">2.4</text>
<text x="154.55" y="529.6" font-size="27.3" text-anchor="middle">BC0</text>
<text x="241.34" y="529.6" font-size="27.3" text-anchor="middle">BC1</text>
<text x="328.13" y="529.6" font-size="27.3" text-anchor="middle">BC5</text>
<text x="414.92" y="529.6" font-size="27.3" text-anchor="middle">BC10</text>
<text x="501.71" y="529.6" font-size="27.3" text-anchor="middle">BC0</text>
<text x="588.5" y="529.6" font-size="27.3" text-anchor="middle">BC1</text>
<text x="675.29" y="529.6" font-size="27.3" text-anchor="middle">BC5</text>
<text x="762.08" y="529.6" font-size="27.3" text-anchor="middle">BC10</text>
<text x="848.87" y="529.6" font-size="27.3" text-anchor="middle">BC0</text>
<text x="935.66" y="529.6" font-size="27.3" text-anchor="middle">BC1</text>
<text x="1022.45" y="529.6" font-size="27.3" text-anchor="middle">BC5</text>
<text x="1109.24" y="529.6" font-size="27.3" text-anchor="middle">BC10</text>
<line x1="458.32" y1="761.3" x2="458.32" y2="548.5" stroke="#ff1010" stroke-width="2" stroke-dasharray="8.6 8.73"/>
<line x1="805.48" y1="761.3" x2="805.48" y2="548.5" stroke="#ff1010" stroke-width="2" stroke-dasharray="8.6 8.73"/>
<rect x="120.05" y="688.5" width="13.6" height="72.8" fill="#a6ffff" stroke="#1e1e1e" stroke-width="1"/>
<rect x="138.52" y="685.4" width="13.6" height="75.9" fill="#3c3cff" stroke="#1e1e1e" stroke-width="1"/>
<rect x="156.98" y="684.7" width="13.6" height="76.6" fill="#ffff00" stroke="#1e1e1e" stroke-width="1"/>
<rect x="175.45" y="655.9" width="13.6" height="105.4" fill="#ff0000" stroke="#1e1e1e" stroke-width="1"/>
<line x1="154.55" y1="754.8" x2="154.55" y2="761.3" stroke="#111" stroke-width="1.5"/>
<rect x="206.84" y="717.9" width="13.6" height="43.4" fill="#a6ffff" stroke="#1e1e1e" stroke-width="1"/>
<rect x="225.31" y="709.2" width="13.6" height="52.1" fill="#3c3cff" stroke="#1e1e1e" stroke-width="1"/>
<rect x="243.77" y="675.3" width="13.6" height="86" fill="#ffff00" stroke="#1e1e1e" stroke-width="1"/>
<rect x="262.24" y="655.9" width="13.6" height="105.4" fill="#ff0000" stroke="#1e1e1e" stroke-width="1"/>
<line x1="241.34" y1="754.8" x2="241.34" y2="761.3" stroke="#111" stroke-width="1.5"/>
<rect x="293.63" y="718.4" width="13.6" height="42.9" fill="#a6ffff" stroke="#1e1e1e" stroke-width="1"/>
<rect x="312.1" y="694.2" width="13.6" height="67.1" fill="#3c3cff" stroke="#1e1e1e" stroke-width="1"/>
<rect x="330.56" y="690.6" width="13.6" height="70.7" fill="#ffff00" stroke="#1e1e1e" stroke-width="1"/>
<rect x="349.03" y="691.4" width="13.6" height="69.9" fill="#ff0000" stroke="#1e1e1e" stroke-width="1"/>
<line x1="328.13" y1="754.8" x2="328.13" y2="761.3" stroke="#111" stroke-width="1.5"/>
<rect x="380.42" y="730.9" width="13.6" height="30.4" fill="#a6ffff" stroke="#1e1e1e" stroke-width="1"/>
<rect x="398.89" y="727.9" width="13.6" height="33.4" fill="#3c3cff" stroke="#1e1e1e" stroke-width="1"/>
<rect x="417.35" y="690.6" width="13.6" height="70.7" fill="#ffff00" stroke="#1e1e1e" stroke-width="1"/>
<rect x="435.82" y="682.2" width="13.6" height="79.1" fill="#ff0000" stroke="#1e1e1e" stroke-width="1"/>
<line x1="414.92" y1="754.8" x2="414.92" y2="761.3" stroke="#111" stroke-width="1.5"/>
<rect x="467.21" y="699.5" width="13.6" height="61.8" fill="#a6ffff" stroke="#1e1e1e" stroke-width="1"/>
<rect x="485.68" y="700.6" width="13.6" height="60.7" fill="#3c3cff" stroke="#1e1e1e" stroke-width="1"/>
<rect x="504.14" y="698.8" width="13.6" height="62.5" fill="#ffff00" stroke="#1e1e1e" stroke-width="1"/>
<rect x="522.61" y="639" width="13.6" height="122.3" fill="#ff0000" stroke="#1e1e1e" stroke-width="1"/>
<line x1="501.71" y1="754.8" x2="501.71" y2="761.3" stroke="#111" stroke-width="1.5"/>
<rect x="554" y="699.5" width="13.6" height="61.8" fill="#a6ffff" stroke="#1e1e1e" stroke-width="1"/>
<rect x="572.47" y="684.5" width="13.6" height="76.8" fill="#3c3cff" stroke="#1e1e1e" stroke-width="1"/>
<rect x="590.93" y="673.8" width="13.6" height="87.5" fill="#ffff00" stroke="#1e1e1e" stroke-width="1"/>
<rect x="609.4" y="662.7" width="13.6" height="98.6" fill="#ff0000" stroke="#1e1e1e" stroke-width="1"/>
<line x1="588.5" y1="754.8" x2="588.5" y2="761.3" stroke="#111" stroke-width="1.5"/>
<rect x="640.79" y="690.3" width="13.6" height="71" fill="#a6ffff" stroke="#1e1e1e" stroke-width="1"/>
<rect x="659.26" y="690.6" width="13.6" height="70.7" fill="#3c3cff" stroke="#1e1e1e" stroke-width="1"/>
<rect x="677.72" y="677.3" width="13.6" height="84" fill="#ffff00" stroke="#1e1e1e" stroke-width="1"/>
<rect x="696.19" y="627.5" width="13.6" height="133.8" fill="#ff0000" stroke="#1e1e1e" stroke-width="1"/>
<line x1="675.29" y1="754.8" x2="675.29" y2="761.3" stroke="#111" stroke-width="1.5"/>
<rect x="727.58" y="715.6" width="13.6" height="45.7" fill="#a6ffff" stroke="#1e1e1e" stroke-width="1"/>
<rect x="746.05" y="708" width="13.6" height="53.3" fill="#3c3cff" stroke="#1e1e1e" stroke-width="1"/>
<rect x="764.51" y="688.5" width="13.6" height="72.8" fill="#ffff00" stroke="#1e1e1e" stroke-width="1"/>
<rect x="782.98" y="685" width="13.6" height="76.3" fill="#ff0000" stroke="#1e1e1e" stroke-width="1"/>
<line x1="762.08" y1="754.8" x2="762.08" y2="761.3" stroke="#111" stroke-width="1.5"/>
<rect x="814.37" y="713.3" width="13.6" height="48" fill="#a6ffff" stroke="#1e1e1e" stroke-width="1"/>
<rect x="832.84" y="705.7" width="13.6" height="55.6" fill="#3c3cff" stroke="#1e1e1e" stroke-width="1"/>
<rect x="851.3" y="674.2" width="13.6" height="87.1" fill="#ffff00" stroke="#1e1e1e" stroke-width="1"/>
<rect x="869.77" y="657.8" width="13.6" height="103.5" fill="#ff0000" stroke="#1e1e1e" stroke-width="1"/>
<line x1="848.87" y1="754.8" x2="848.87" y2="761.3" stroke="#111" stroke-width="1.5"/>
<rect x="901.16" y="715.6" width="13.6" height="45.7" fill="#a6ffff" stroke="#1e1e1e" stroke-width="1"/>
<rect x="919.63" y="706" width="13.6" height="55.3" fill="#3c3cff" stroke="#1e1e1e" stroke-width="1"/>
<rect x="938.09" y="691.6" width="13.6" height="69.7" fill="#ffff00" stroke="#1e1e1e" stroke-width="1"/>
<rect x="956.56" y="688.8" width="13.6" height="72.5" fill="#ff0000" stroke="#1e1e1e" stroke-width="1"/>
<line x1="935.66" y1="754.8" x2="935.66" y2="761.3" stroke="#111" stroke-width="1.5"/>
<rect x="987.95" y="716.4" width="13.6" height="44.9" fill="#a6ffff" stroke="#1e1e1e" stroke-width="1"/>
<rect x="1006.42" y="705.3" width="13.6" height="56" fill="#3c3cff" stroke="#1e1e1e" stroke-width="1"/>
<rect x="1024.88" y="690" width="13.6" height="71.3" fill="#ffff00" stroke="#1e1e1e" stroke-width="1"/>
<rect x="1043.35" y="631.6" width="13.6" height="129.7" fill="#ff0000" stroke="#1e1e1e" stroke-width="1"/>
<line x1="1022.45" y1="754.8" x2="1022.45" y2="761.3" stroke="#111" stroke-width="1.5"/>
<rect x="1074.74" y="721.3" width="13.6" height="40" fill="#a6ffff" stroke="#1e1e1e" stroke-width="1"/>
<rect x="1093.21" y="703.4" width="13.6" height="57.9" fill="#3c3cff" stroke="#1e1e1e" stroke-width="1"/>
<rect x="1111.67" y="694.2" width="13.6" height="67.1" fill="#ffff00" stroke="#1e1e1e" stroke-width="1"/>
<rect x="1130.14" y="687.6" width="13.6" height="73.7" fill="#ff0000" stroke="#1e1e1e" stroke-width="1"/>
<line x1="1109.24" y1="754.8" x2="1109.24" y2="761.3" stroke="#111" stroke-width="1.5"/>
<path d="M126.85 664.7V712.1" stroke="#1a1a1a" stroke-width="1.2" fill="none"/>
<path d="M120.05 664.7H133.65M120.05 712.1H133.65" stroke="#141414" stroke-width="1.3" fill="none"/>
<path d="M145.32 682.4V687" stroke="#1a1a1a" stroke-width="1.2" fill="none"/>
<path d="M138.52 682.4H152.12M138.52 687H152.12" stroke="#141414" stroke-width="1.3" fill="none"/>
<path d="M163.78 670.1V698.5" stroke="#1a1a1a" stroke-width="1.2" fill="none"/>
<path d="M156.98 670.1H170.58M156.98 698.5H170.58" stroke="#141414" stroke-width="1.3" fill="none"/>
<path d="M182.25 649.4V661.5" stroke="#1a1a1a" stroke-width="1.2" fill="none"/>
<path d="M175.45 649.4H189.05M175.45 661.5H189.05" stroke="#141414" stroke-width="1.3" fill="none"/>
<path d="M213.64 717V719" stroke="#1a1a1a" stroke-width="1.2" fill="none"/>
<path d="M206.84 717H220.44M206.84 719H220.44" stroke="#141414" stroke-width="1.3" fill="none"/>
<path d="M232.11 708.3V710.2" stroke="#1a1a1a" stroke-width="1.2" fill="none"/>
<path d="M225.31 708.3H238.91M225.31 710.2H238.91" stroke="#141414" stroke-width="1.3" fill="none"/>
<path d="M250.57 672.7V676.5" stroke="#1a1a1a" stroke-width="1.2" fill="none"/>
<path d="M243.77 672.7H257.37M243.77 676.5H257.37" stroke="#141414" stroke-width="1.3" fill="none"/>
<path d="M269.04 633.6V677.3" stroke="#1a1a1a" stroke-width="1.2" fill="none"/>
<path d="M262.24 633.6H275.84M262.24 677.3H275.84" stroke="#141414" stroke-width="1.3" fill="none"/>
<path d="M300.43 709.5V727.4" stroke="#1a1a1a" stroke-width="1.2" fill="none"/>
<path d="M293.63 709.5H307.23M293.63 727.4H307.23" stroke="#141414" stroke-width="1.3" fill="none"/>
<path d="M318.9 690V698" stroke="#1a1a1a" stroke-width="1.2" fill="none"/>
<path d="M312.1 690H325.7M312.1 698H325.7" stroke="#141414" stroke-width="1.3" fill="none"/>
<path d="M337.36 684.2V696.5" stroke="#1a1a1a" stroke-width="1.2" fill="none"/>
<path d="M330.56 684.2H344.16M330.56 696.5H344.16" stroke="#141414" stroke-width="1.3" fill="none"/>
<path d="M355.83 678.8V703.4" stroke="#1a1a1a" stroke-width="1.2" fill="none"/>
<path d="M349.03 678.8H362.63M349.03 703.4H362.63" stroke="#141414" stroke-width="1.3" fill="none"/>
<path d="M387.22 720.2V740.9" stroke="#1a1a1a" stroke-width="1.2" fill="none"/>
<path d="M380.42 720.2H394.02M380.42 740.9H394.02" stroke="#141414" stroke-width="1.3" fill="none"/>
<path d="M405.69 720.2V734" stroke="#1a1a1a" stroke-width="1.2" fill="none"/>
<path d="M398.89 720.2H412.49M398.89 734H412.49" stroke="#141414" stroke-width="1.3" fill="none"/>
<path d="M424.15 681.4V698.3" stroke="#1a1a1a" stroke-width="1.2" fill="none"/>
<path d="M417.35 681.4H430.95M417.35 698.3H430.95" stroke="#141414" stroke-width="1.3" fill="none"/>
<path d="M442.62 675.8V688.5" stroke="#1a1a1a" stroke-width="1.2" fill="none"/>
<path d="M435.82 675.8H449.42M435.82 688.5H449.42" stroke="#141414" stroke-width="1.3" fill="none"/>
<path d="M474.01 698.5V700.5" stroke="#1a1a1a" stroke-width="1.2" fill="none"/>
<path d="M467.21 698.5H480.81M467.21 700.5H480.81" stroke="#141414" stroke-width="1.3" fill="none"/>
<path d="M492.48 694.2V706.4" stroke="#1a1a1a" stroke-width="1.2" fill="none"/>
<path d="M485.68 694.2H499.28M485.68 706.4H499.28" stroke="#141414" stroke-width="1.3" fill="none"/>
<path d="M510.94 697.5V700.3" stroke="#1a1a1a" stroke-width="1.2" fill="none"/>
<path d="M504.14 697.5H517.74M504.14 700.3H517.74" stroke="#141414" stroke-width="1.3" fill="none"/>
<path d="M529.41 624.4V652" stroke="#1a1a1a" stroke-width="1.2" fill="none"/>
<path d="M522.61 624.4H536.21M522.61 652H536.21" stroke="#141414" stroke-width="1.3" fill="none"/>
<path d="M560.8 696V701.8" stroke="#1a1a1a" stroke-width="1.2" fill="none"/>
<path d="M554 696H567.6M554 701.8H567.6" stroke="#141414" stroke-width="1.3" fill="none"/>
<path d="M579.27 677.6V689.1" stroke="#1a1a1a" stroke-width="1.2" fill="none"/>
<path d="M572.47 677.6H586.07M572.47 689.1H586.07" stroke="#141414" stroke-width="1.3" fill="none"/>
<path d="M597.73 672V675.8" stroke="#1a1a1a" stroke-width="1.2" fill="none"/>
<path d="M590.93 672H604.53M590.93 675.8H604.53" stroke="#141414" stroke-width="1.3" fill="none"/>
<path d="M616.2 653.9V671.6" stroke="#1a1a1a" stroke-width="1.2" fill="none"/>
<path d="M609.4 653.9H623M609.4 671.6H623" stroke="#141414" stroke-width="1.3" fill="none"/>
<path d="M647.59 681.9V698" stroke="#1a1a1a" stroke-width="1.2" fill="none"/>
<path d="M640.79 681.9H654.39M640.79 698H654.39" stroke="#141414" stroke-width="1.3" fill="none"/>
<path d="M666.06 687V694.2" stroke="#1a1a1a" stroke-width="1.2" fill="none"/>
<path d="M659.26 687H672.86M659.26 694.2H672.86" stroke="#141414" stroke-width="1.3" fill="none"/>
<path d="M684.52 673.2V680.4" stroke="#1a1a1a" stroke-width="1.2" fill="none"/>
<path d="M677.72 673.2H691.32M677.72 680.4H691.32" stroke="#141414" stroke-width="1.3" fill="none"/>
<path d="M702.99 606.8V647.4" stroke="#1a1a1a" stroke-width="1.2" fill="none"/>
<path d="M696.19 606.8H709.79M696.19 647.4H709.79" stroke="#141414" stroke-width="1.3" fill="none"/>
<path d="M734.38 713.3V717.1" stroke="#1a1a1a" stroke-width="1.2" fill="none"/>
<path d="M727.58 713.3H741.18M727.58 717.1H741.18" stroke="#141414" stroke-width="1.3" fill="none"/>
<path d="M752.85 707V709" stroke="#1a1a1a" stroke-width="1.2" fill="none"/>
<path d="M746.05 707H759.65M746.05 709H759.65" stroke="#141414" stroke-width="1.3" fill="none"/>
<path d="M771.31 678.1V698.3" stroke="#1a1a1a" stroke-width="1.2" fill="none"/>
<path d="M764.51 678.1H778.11M764.51 698.3H778.11" stroke="#141414" stroke-width="1.3" fill="none"/>
<path d="M789.78 684.2V686" stroke="#1a1a1a" stroke-width="1.2" fill="none"/>
<path d="M782.98 684.2H796.58M782.98 686H796.58" stroke="#141414" stroke-width="1.3" fill="none"/>
<path d="M821.17 710.6V716.4" stroke="#1a1a1a" stroke-width="1.2" fill="none"/>
<path d="M814.37 710.6H827.97M814.37 716.4H827.97" stroke="#141414" stroke-width="1.3" fill="none"/>
<path d="M839.64 701.1V709.9" stroke="#1a1a1a" stroke-width="1.2" fill="none"/>
<path d="M832.84 701.1H846.44M832.84 709.9H846.44" stroke="#141414" stroke-width="1.3" fill="none"/>
<path d="M858.1 659.7V687.7" stroke="#1a1a1a" stroke-width="1.2" fill="none"/>
<path d="M851.3 659.7H864.9M851.3 687.7H864.9" stroke="#141414" stroke-width="1.3" fill="none"/>
<path d="M876.57 626V688.5" stroke="#1a1a1a" stroke-width="1.2" fill="none"/>
<path d="M869.77 626H883.37M869.77 688.5H883.37" stroke="#141414" stroke-width="1.3" fill="none"/>
<path d="M907.96 713V717.9" stroke="#1a1a1a" stroke-width="1.2" fill="none"/>
<path d="M901.16 713H914.76M901.16 717.9H914.76" stroke="#141414" stroke-width="1.3" fill="none"/>
<path d="M926.43 678.1V733.2" stroke="#1a1a1a" stroke-width="1.2" fill="none"/>
<path d="M919.63 678.1H933.23M919.63 733.2H933.23" stroke="#141414" stroke-width="1.3" fill="none"/>
<path d="M944.89 675.3V708.4" stroke="#1a1a1a" stroke-width="1.2" fill="none"/>
<path d="M938.09 675.3H951.69M938.09 708.4H951.69" stroke="#141414" stroke-width="1.3" fill="none"/>
<path d="M963.36 675.8V701.5" stroke="#1a1a1a" stroke-width="1.2" fill="none"/>
<path d="M956.56 675.8H970.16M956.56 701.5H970.16" stroke="#141414" stroke-width="1.3" fill="none"/>
<path d="M994.75 712.1V721.7" stroke="#1a1a1a" stroke-width="1.2" fill="none"/>
<path d="M987.95 712.1H1001.55M987.95 721.7H1001.55" stroke="#141414" stroke-width="1.3" fill="none"/>
<path d="M1013.22 698.5V711.5" stroke="#1a1a1a" stroke-width="1.2" fill="none"/>
<path d="M1006.42 698.5H1020.02M1006.42 711.5H1020.02" stroke="#141414" stroke-width="1.3" fill="none"/>
<path d="M1031.68 676.5V702.6" stroke="#1a1a1a" stroke-width="1.2" fill="none"/>
<path d="M1024.88 676.5H1038.48M1024.88 702.6H1038.48" stroke="#141414" stroke-width="1.3" fill="none"/>
<path d="M1050.15 628.7V633.9" stroke="#1a1a1a" stroke-width="1.2" fill="none"/>
<path d="M1043.35 628.7H1056.95M1043.35 633.9H1056.95" stroke="#141414" stroke-width="1.3" fill="none"/>
<path d="M1081.54 717.9V724" stroke="#1a1a1a" stroke-width="1.2" fill="none"/>
<path d="M1074.74 717.9H1088.34M1074.74 724H1088.34" stroke="#141414" stroke-width="1.3" fill="none"/>
<path d="M1100.01 693.1V714.5" stroke="#1a1a1a" stroke-width="1.2" fill="none"/>
<path d="M1093.21 693.1H1106.81M1093.21 714.5H1106.81" stroke="#141414" stroke-width="1.3" fill="none"/>
<path d="M1118.47 671.2V716.4" stroke="#1a1a1a" stroke-width="1.2" fill="none"/>
<path d="M1111.67 671.2H1125.27M1111.67 716.4H1125.27" stroke="#141414" stroke-width="1.3" fill="none"/>
<path d="M1136.94 677.3V697.5" stroke="#1a1a1a" stroke-width="1.2" fill="none"/>
<path d="M1130.14 677.3H1143.74M1130.14 697.5H1143.74" stroke="#141414" stroke-width="1.3" fill="none"/>
<text x="126.4" y="658.9" font-size="24" text-anchor="middle">abcd</text>
<text x="145.2" y="676.5" font-size="24" text-anchor="middle">abcd</text>
<text x="155.9" y="625.2" font-size="24" text-anchor="middle">abcd</text>
<text x="182.3" y="643.1" font-size="24" text-anchor="middle">a</text>
<text x="214.2" y="710.2" font-size="24" text-anchor="middle">cdef</text>
<text x="231.3" y="689.1" font-size="24" text-anchor="middle">bcdef</text>
<text x="250.3" y="665.8" font-size="24" text-anchor="middle">ab</text>
<text x="268.9" y="627.5" font-size="24" text-anchor="middle">a</text>
<text x="301.5" y="702.6" font-size="24" text-anchor="middle">def</text>
<text x="318.6" y="683.9" font-size="24" text-anchor="middle">bcde</text>
<text x="333.9" y="646.7" font-size="24" text-anchor="middle">abcd</text>
<text x="356.2" y="671.9" font-size="24" text-anchor="middle">bcd</text>
<text x="389.1" y="714.1" font-size="24" text-anchor="middle">f</text>
<text x="406.1" y="714.1" font-size="24" text-anchor="middle">ef</text>
<text x="423.6" y="675" font-size="24" text-anchor="middle">abcd</text>
<text x="442.7" y="651.7" font-size="24" text-anchor="middle">abc</text>
<text x="473.4" y="691" font-size="24" text-anchor="middle">def</text>
<text x="493.3" y="664.3" font-size="24" text-anchor="middle">def</text>
<text x="509" y="691" font-size="24" text-anchor="middle">cdef</text>
<text x="529.6" y="618" font-size="24" text-anchor="middle">a</text>
<text x="560.7" y="688.8" font-size="24" text-anchor="middle">def</text>
<text x="579.1" y="671.2" font-size="24" text-anchor="middle">bcde</text>
<text x="599" y="649.7" font-size="24" text-anchor="middle">bc</text>
<text x="615.4" y="649.7" font-size="24" text-anchor="middle">b</text>
<text x="641.8" y="660.4" font-size="24" text-anchor="middle">cdef</text>
<text x="667.5" y="680.4" font-size="24" text-anchor="middle">cdef</text>
<text x="684.4" y="665.8" font-size="24" text-anchor="middle">bcd</text>
<text x="702.9" y="600.7" font-size="24" text-anchor="middle">a</text>
<text x="735.1" y="706.4" font-size="24" text-anchor="middle">f</text>
<text x="753.6" y="700.3" font-size="24" text-anchor="middle">ef</text>
<text x="769" y="652" font-size="24" text-anchor="middle">cde</text>
<text x="789.3" y="677.3" font-size="24" text-anchor="middle">bcde</text>
<text x="821" y="703.4" font-size="24" text-anchor="middle">c</text>
<text x="839.8" y="693.7" font-size="24" text-anchor="middle">bc</text>
<text x="858.2" y="654.3" font-size="24" text-anchor="middle">abc</text>
<text x="876.2" y="620.1" font-size="24" text-anchor="middle">ab</text>
<text x="908.2" y="705.7" font-size="24" text-anchor="middle">c</text>
<text x="926.4" y="671.6" font-size="24" text-anchor="middle">bc</text>
<text x="941.6" y="645.6" font-size="24" text-anchor="middle">bc</text>
<text x="963.5" y="668.9" font-size="24" text-anchor="middle">bc</text>
<text x="994.9" y="704.9" font-size="24" text-anchor="middle">c</text>
<text x="1013.3" y="692.6" font-size="24" text-anchor="middle">bc</text>
<text x="1031.9" y="670.4" font-size="24" text-anchor="middle">bc</text>
<text x="1049.9" y="622.1" font-size="24" text-anchor="middle">a</text>
<text x="1081.5" y="711.8" font-size="24" text-anchor="middle">c</text>
<text x="1100.3" y="685.7" font-size="24" text-anchor="middle">bc</text>
<text x="1115.4" y="653.2" font-size="24" text-anchor="middle">bc</text>
<text x="1137" y="670.4" font-size="24" text-anchor="middle">bc</text>
<path d="M99.3 548.5V761.3H1153.5" stroke="#000" stroke-width="1.8" fill="none"/>
<text x="91" y="769.6" font-size="27.5" text-anchor="end">0.0</text>
<line x1="99.3" y1="708.1" x2="105.8" y2="708.1" stroke="#000" stroke-width="1.8"/>
<text x="91" y="716.4" font-size="27.5" text-anchor="end">0.5</text>
<line x1="99.3" y1="654.9" x2="105.8" y2="654.9" stroke="#000" stroke-width="1.8"/>
<text x="91" y="663.2" font-size="27.5" text-anchor="end">1.0</text>
<line x1="99.3" y1="601.7" x2="105.8" y2="601.7" stroke="#000" stroke-width="1.8"/>
<text x="91" y="610" font-size="27.5" text-anchor="end">1.5</text>
<line x1="99.3" y1="548.5" x2="105.8" y2="548.5" stroke="#000" stroke-width="1.8"/>
<text x="91" y="556.8" font-size="27.5" text-anchor="end">2.0</text>
<text x="154.55" y="791.1" font-size="27.3" text-anchor="middle">BC0</text>
<text x="241.34" y="791.1" font-size="27.3" text-anchor="middle">BC1</text>
<text x="328.13" y="791.1" font-size="27.3" text-anchor="middle">BC5</text>
<text x="414.92" y="791.1" font-size="27.3" text-anchor="middle">BC10</text>
<text x="501.71" y="791.1" font-size="27.3" text-anchor="middle">BC0</text>
<text x="588.5" y="791.1" font-size="27.3" text-anchor="middle">BC1</text>
<text x="675.29" y="791.1" font-size="27.3" text-anchor="middle">BC5</text>
<text x="762.08" y="791.1" font-size="27.3" text-anchor="middle">BC10</text>
<text x="848.87" y="791.1" font-size="27.3" text-anchor="middle">BC0</text>
<text x="935.66" y="791.1" font-size="27.3" text-anchor="middle">BC1</text>
<text x="1022.45" y="791.1" font-size="27.3" text-anchor="middle">BC5</text>
<text x="1109.24" y="791.1" font-size="27.3" text-anchor="middle">BC10</text>
<line x1="461.33" y1="1076.3" x2="461.33" y2="863.9" stroke="#ff1010" stroke-width="2" stroke-dasharray="8.6 8.73"/>
<line x1="808.05" y1="1076.3" x2="808.05" y2="863.9" stroke="#ff1010" stroke-width="2" stroke-dasharray="8.6 8.73"/>
<rect x="123.45" y="1013.3" width="13.6" height="63" fill="#a6ffff" stroke="#1e1e1e" stroke-width="1"/>
<rect x="141.92" y="1013.3" width="13.6" height="63" fill="#3c3cff" stroke="#1e1e1e" stroke-width="1"/>
<rect x="160.38" y="1017" width="13.6" height="59.3" fill="#ffff00" stroke="#1e1e1e" stroke-width="1"/>
<rect x="178.85" y="1022.5" width="13.6" height="53.8" fill="#ff0000" stroke="#1e1e1e" stroke-width="1"/>
<line x1="157.95" y1="1069.8" x2="157.95" y2="1076.3" stroke="#111" stroke-width="1.5"/>
<rect x="210.13" y="1018.2" width="13.6" height="58.1" fill="#a6ffff" stroke="#1e1e1e" stroke-width="1"/>
<rect x="228.6" y="1025.6" width="13.6" height="50.7" fill="#3c3cff" stroke="#1e1e1e" stroke-width="1"/>
<rect x="247.06" y="1030.8" width="13.6" height="45.5" fill="#ffff00" stroke="#1e1e1e" stroke-width="1"/>
<rect x="265.53" y="1042.4" width="13.6" height="33.9" fill="#ff0000" stroke="#1e1e1e" stroke-width="1"/>
<line x1="244.63" y1="1069.8" x2="244.63" y2="1076.3" stroke="#111" stroke-width="1.5"/>
<rect x="296.81" y="1037.4" width="13.6" height="38.9" fill="#a6ffff" stroke="#1e1e1e" stroke-width="1"/>
<rect x="315.28" y="1039.4" width="13.6" height="36.9" fill="#3c3cff" stroke="#1e1e1e" stroke-width="1"/>
<rect x="333.74" y="1044.7" width="13.6" height="31.6" fill="#ffff00" stroke="#1e1e1e" stroke-width="1"/>
<rect x="352.21" y="1049.2" width="13.6" height="27.1" fill="#ff0000" stroke="#1e1e1e" stroke-width="1"/>
<line x1="331.31" y1="1069.8" x2="331.31" y2="1076.3" stroke="#111" stroke-width="1.5"/>
<rect x="383.49" y="1036.3" width="13.6" height="40" fill="#a6ffff" stroke="#1e1e1e" stroke-width="1"/>
<rect x="401.96" y="1046.1" width="13.6" height="30.2" fill="#3c3cff" stroke="#1e1e1e" stroke-width="1"/>
<rect x="420.42" y="1048.6" width="13.6" height="27.7" fill="#ffff00" stroke="#1e1e1e" stroke-width="1"/>
<rect x="438.89" y="1053" width="13.6" height="23.3" fill="#ff0000" stroke="#1e1e1e" stroke-width="1"/>
<line x1="417.99" y1="1069.8" x2="417.99" y2="1076.3" stroke="#111" stroke-width="1.5"/>
<rect x="470.17" y="908.3" width="13.6" height="168" fill="#a6ffff" stroke="#1e1e1e" stroke-width="1"/>
<rect x="488.64" y="925.5" width="13.6" height="150.8" fill="#3c3cff" stroke="#1e1e1e" stroke-width="1"/>
<rect x="507.1" y="949.7" width="13.6" height="126.6" fill="#ffff00" stroke="#1e1e1e" stroke-width="1"/>
<rect x="525.57" y="957.3" width="13.6" height="119" fill="#ff0000" stroke="#1e1e1e" stroke-width="1"/>
<line x1="504.67" y1="1069.8" x2="504.67" y2="1076.3" stroke="#111" stroke-width="1.5"/>
<rect x="556.85" y="944.3" width="13.6" height="132" fill="#a6ffff" stroke="#1e1e1e" stroke-width="1"/>
<rect x="575.32" y="969.6" width="13.6" height="106.7" fill="#3c3cff" stroke="#1e1e1e" stroke-width="1"/>
<rect x="593.78" y="979.1" width="13.6" height="97.2" fill="#ffff00" stroke="#1e1e1e" stroke-width="1"/>
<rect x="612.25" y="1000.6" width="13.6" height="75.7" fill="#ff0000" stroke="#1e1e1e" stroke-width="1"/>
<line x1="591.35" y1="1069.8" x2="591.35" y2="1076.3" stroke="#111" stroke-width="1.5"/>
<rect x="643.53" y="991" width="13.6" height="85.3" fill="#a6ffff" stroke="#1e1e1e" stroke-width="1"/>
<rect x="662" y="993.3" width="13.6" height="83" fill="#3c3cff" stroke="#1e1e1e" stroke-width="1"/>
<rect x="680.46" y="1003.6" width="13.6" height="72.7" fill="#ffff00" stroke="#1e1e1e" stroke-width="1"/>
<rect x="698.93" y="1018.5" width="13.6" height="57.8" fill="#ff0000" stroke="#1e1e1e" stroke-width="1"/>
<line x1="678.03" y1="1069.8" x2="678.03" y2="1076.3" stroke="#111" stroke-width="1.5"/>
<rect x="730.21" y="1007.4" width="13.6" height="68.9" fill="#a6ffff" stroke="#1e1e1e" stroke-width="1"/>
<rect x="748.68" y="1039.6" width="13.6" height="36.7" fill="#3c3cff" stroke="#1e1e1e" stroke-width="1"/>
<rect x="767.14" y="1045.4" width="13.6" height="30.9" fill="#ffff00" stroke="#1e1e1e" stroke-width="1"/>
<rect x="785.61" y="1061.5" width="13.6" height="14.8" fill="#ff0000" stroke="#1e1e1e" stroke-width="1"/>
<line x1="764.71" y1="1069.8" x2="764.71" y2="1076.3" stroke="#111" stroke-width="1.5"/>
<rect x="816.89" y="921" width="13.6" height="155.3" fill="#a6ffff" stroke="#1e1e1e" stroke-width="1"/>
<rect x="835.36" y="941.7" width="13.6" height="134.6" fill="#3c3cff" stroke="#1e1e1e" stroke-width="1"/>
<rect x="853.82" y="976.8" width="13.6" height="99.5" fill="#ffff00" stroke="#1e1e1e" stroke-width="1"/>
<rect x="872.29" y="961.5" width="13.6" height="114.8" fill="#ff0000" stroke="#1e1e1e" stroke-width="1"/>
<line x1="851.39" y1="1069.8" x2="851.39" y2="1076.3" stroke="#111" stroke-width="1.5"/>
<rect x="903.57" y="945.4" width="13.6" height="130.9" fill="#a6ffff" stroke="#1e1e1e" stroke-width="1"/>
<rect x="922.04" y="954" width="13.6" height="122.3" fill="#3c3cff" stroke="#1e1e1e" stroke-width="1"/>
<rect x="940.5" y="994.9" width="13.6" height="81.4" fill="#ffff00" stroke="#1e1e1e" stroke-width="1"/>
<rect x="958.97" y="1000.7" width="13.6" height="75.6" fill="#ff0000" stroke="#1e1e1e" stroke-width="1"/>
<line x1="938.07" y1="1069.8" x2="938.07" y2="1076.3" stroke="#111" stroke-width="1.5"/>
<rect x="990.25" y="993.6" width="13.6" height="82.7" fill="#a6ffff" stroke="#1e1e1e" stroke-width="1"/>
<rect x="1008.72" y="1003.6" width="13.6" height="72.7" fill="#3c3cff" stroke="#1e1e1e" stroke-width="1"/>
<rect x="1027.18" y="1012.8" width="13.6" height="63.5" fill="#ffff00" stroke="#1e1e1e" stroke-width="1"/>
<rect x="1045.65" y="1017.7" width="13.6" height="58.6" fill="#ff0000" stroke="#1e1e1e" stroke-width="1"/>
<line x1="1024.75" y1="1069.8" x2="1024.75" y2="1076.3" stroke="#111" stroke-width="1.5"/>
<rect x="1076.93" y="1021.2" width="13.6" height="55.1" fill="#a6ffff" stroke="#1e1e1e" stroke-width="1"/>
<rect x="1095.4" y="1025.5" width="13.6" height="50.8" fill="#3c3cff" stroke="#1e1e1e" stroke-width="1"/>
<rect x="1113.86" y="1039.3" width="13.6" height="37" fill="#ffff00" stroke="#1e1e1e" stroke-width="1"/>
<rect x="1132.33" y="1041.1" width="13.6" height="35.2" fill="#ff0000" stroke="#1e1e1e" stroke-width="1"/>
<line x1="1111.43" y1="1069.8" x2="1111.43" y2="1076.3" stroke="#111" stroke-width="1.5"/>
<path d="M130.25 1008.3V1018.2" stroke="#1a1a1a" stroke-width="1.2" fill="none"/>
<path d="M123.45 1008.3H137.05M123.45 1018.2H137.05" stroke="#141414" stroke-width="1.3" fill="none"/>
<path d="M148.72 1010.1V1016.4" stroke="#1a1a1a" stroke-width="1.2" fill="none"/>
<path d="M141.92 1010.1H155.52M141.92 1016.4H155.52" stroke="#141414" stroke-width="1.3" fill="none"/>
<path d="M167.18 1007.5V1026.2" stroke="#1a1a1a" stroke-width="1.2" fill="none"/>
<path d="M160.38 1007.5H173.98M160.38 1026.2H173.98" stroke="#141414" stroke-width="1.3" fill="none"/>
<path d="M185.65 1016.4V1028.6" stroke="#1a1a1a" stroke-width="1.2" fill="none"/>
<path d="M178.85 1016.4H192.45M178.85 1028.6H192.45" stroke="#141414" stroke-width="1.3" fill="none"/>
<path d="M216.93 1014.4V1022.1" stroke="#1a1a1a" stroke-width="1.2" fill="none"/>
<path d="M210.13 1014.4H223.73M210.13 1022.1H223.73" stroke="#141414" stroke-width="1.3" fill="none"/>
<path d="M235.4 1021V1029.7" stroke="#1a1a1a" stroke-width="1.2" fill="none"/>
<path d="M228.6 1021H242.2M228.6 1029.7H242.2" stroke="#141414" stroke-width="1.3" fill="none"/>
<path d="M253.86 1023.3V1037.8" stroke="#1a1a1a" stroke-width="1.2" fill="none"/>
<path d="M247.06 1023.3H260.66M247.06 1037.8H260.66" stroke="#141414" stroke-width="1.3" fill="none"/>
<path d="M272.33 1035.4V1049.3" stroke="#1a1a1a" stroke-width="1.2" fill="none"/>
<path d="M265.53 1035.4H279.13M265.53 1049.3H279.13" stroke="#141414" stroke-width="1.3" fill="none"/>
<path d="M303.61 1033.9V1040.4" stroke="#1a1a1a" stroke-width="1.2" fill="none"/>
<path d="M296.81 1033.9H310.41M296.81 1040.4H310.41" stroke="#141414" stroke-width="1.3" fill="none"/>
<path d="M322.08 1034.8V1044.3" stroke="#1a1a1a" stroke-width="1.2" fill="none"/>
<path d="M315.28 1034.8H328.88M315.28 1044.3H328.88" stroke="#141414" stroke-width="1.3" fill="none"/>
<path d="M340.54 1042.4V1047.3" stroke="#1a1a1a" stroke-width="1.2" fill="none"/>
<path d="M333.74 1042.4H347.34M333.74 1047.3H347.34" stroke="#141414" stroke-width="1.3" fill="none"/>
<path d="M359.01 1045.4V1052.7" stroke="#1a1a1a" stroke-width="1.2" fill="none"/>
<path d="M352.21 1045.4H365.81M352.21 1052.7H365.81" stroke="#141414" stroke-width="1.3" fill="none"/>
<path d="M390.29 1032.8V1039.7" stroke="#1a1a1a" stroke-width="1.2" fill="none"/>
<path d="M383.49 1032.8H397.09M383.49 1039.7H397.09" stroke="#141414" stroke-width="1.3" fill="none"/>
<path d="M408.76 1040.1V1051.5" stroke="#1a1a1a" stroke-width="1.2" fill="none"/>
<path d="M401.96 1040.1H415.56M401.96 1051.5H415.56" stroke="#141414" stroke-width="1.3" fill="none"/>
<path d="M427.22 1044.3V1052.4" stroke="#1a1a1a" stroke-width="1.2" fill="none"/>
<path d="M420.42 1044.3H434.02M420.42 1052.4H434.02" stroke="#141414" stroke-width="1.3" fill="none"/>
<path d="M445.69 1048.6V1057.3" stroke="#1a1a1a" stroke-width="1.2" fill="none"/>
<path d="M438.89 1048.6H452.49M438.89 1057.3H452.49" stroke="#141414" stroke-width="1.3" fill="none"/>
<path d="M476.97 903.4V912.1" stroke="#1a1a1a" stroke-width="1.2" fill="none"/>
<path d="M470.17 903.4H483.77M470.17 912.1H483.77" stroke="#141414" stroke-width="1.3" fill="none"/>
<path d="M495.44 918.7V931.3" stroke="#1a1a1a" stroke-width="1.2" fill="none"/>
<path d="M488.64 918.7H502.24M488.64 931.3H502.24" stroke="#141414" stroke-width="1.3" fill="none"/>
<path d="M513.9 945.5V953.5" stroke="#1a1a1a" stroke-width="1.2" fill="none"/>
<path d="M507.1 945.5H520.7M507.1 953.5H520.7" stroke="#141414" stroke-width="1.3" fill="none"/>
<path d="M532.37 953.5V961.2" stroke="#1a1a1a" stroke-width="1.2" fill="none"/>
<path d="M525.57 953.5H539.17M525.57 961.2H539.17" stroke="#141414" stroke-width="1.3" fill="none"/>
<path d="M563.65 937.4V950" stroke="#1a1a1a" stroke-width="1.2" fill="none"/>
<path d="M556.85 937.4H570.45M556.85 950H570.45" stroke="#141414" stroke-width="1.3" fill="none"/>
<path d="M582.12 965V973.7" stroke="#1a1a1a" stroke-width="1.2" fill="none"/>
<path d="M575.32 965H588.92M575.32 973.7H588.92" stroke="#141414" stroke-width="1.3" fill="none"/>
<path d="M600.58 970.8V987.2" stroke="#1a1a1a" stroke-width="1.2" fill="none"/>
<path d="M593.78 970.8H607.38M593.78 987.2H607.38" stroke="#141414" stroke-width="1.3" fill="none"/>
<path d="M619.05 994.4V1005.2" stroke="#1a1a1a" stroke-width="1.2" fill="none"/>
<path d="M612.25 994.4H625.85M612.25 1005.2H625.85" stroke="#141414" stroke-width="1.3" fill="none"/>
<path d="M650.33 989.3V992.9" stroke="#1a1a1a" stroke-width="1.2" fill="none"/>
<path d="M643.53 989.3H657.13M643.53 992.9H657.13" stroke="#141414" stroke-width="1.3" fill="none"/>
<path d="M668.8 980.1V1005.6" stroke="#1a1a1a" stroke-width="1.2" fill="none"/>
<path d="M662 980.1H675.6M662 1005.6H675.6" stroke="#141414" stroke-width="1.3" fill="none"/>
<path d="M687.26 999.5V1007.4" stroke="#1a1a1a" stroke-width="1.2" fill="none"/>
<path d="M680.46 999.5H694.06M680.46 1007.4H694.06" stroke="#141414" stroke-width="1.3" fill="none"/>
<path d="M705.73 1011.3V1024.3" stroke="#1a1a1a" stroke-width="1.2" fill="none"/>
<path d="M698.93 1011.3H712.53M698.93 1024.3H712.53" stroke="#141414" stroke-width="1.3" fill="none"/>
<path d="M737.01 989.8V1024.6" stroke="#1a1a1a" stroke-width="1.2" fill="none"/>
<path d="M730.21 989.8H743.81M730.21 1024.6H743.81" stroke="#141414" stroke-width="1.3" fill="none"/>
<path d="M755.48 1035.3V1043" stroke="#1a1a1a" stroke-width="1.2" fill="none"/>
<path d="M748.68 1035.3H762.28M748.68 1043H762.28" stroke="#141414" stroke-width="1.3" fill="none"/>
<path d="M773.94 1041.1V1049.1" stroke="#1a1a1a" stroke-width="1.2" fill="none"/>
<path d="M767.14 1041.1H780.74M767.14 1049.1H780.74" stroke="#141414" stroke-width="1.3" fill="none"/>
<path d="M792.41 1057.5V1064.9" stroke="#1a1a1a" stroke-width="1.2" fill="none"/>
<path d="M785.61 1057.5H799.21M785.61 1064.9H799.21" stroke="#141414" stroke-width="1.3" fill="none"/>
<path d="M823.69 916.7V925.2" stroke="#1a1a1a" stroke-width="1.2" fill="none"/>
<path d="M816.89 916.7H830.49M816.89 925.2H830.49" stroke="#141414" stroke-width="1.3" fill="none"/>
<path d="M842.16 934.1V948.5" stroke="#1a1a1a" stroke-width="1.2" fill="none"/>
<path d="M835.36 934.1H848.96M835.36 948.5H848.96" stroke="#141414" stroke-width="1.3" fill="none"/>
<path d="M860.62 972.4V980.6" stroke="#1a1a1a" stroke-width="1.2" fill="none"/>
<path d="M853.82 972.4H867.42M853.82 980.6H867.42" stroke="#141414" stroke-width="1.3" fill="none"/>
<path d="M879.09 957.3V964.7" stroke="#1a1a1a" stroke-width="1.2" fill="none"/>
<path d="M872.29 957.3H885.89M872.29 964.7H885.89" stroke="#141414" stroke-width="1.3" fill="none"/>
<path d="M910.37 939.7V950" stroke="#1a1a1a" stroke-width="1.2" fill="none"/>
<path d="M903.57 939.7H917.17M903.57 950H917.17" stroke="#141414" stroke-width="1.3" fill="none"/>
<path d="M928.84 949.7V957.3" stroke="#1a1a1a" stroke-width="1.2" fill="none"/>
<path d="M922.04 949.7H935.64M922.04 957.3H935.64" stroke="#141414" stroke-width="1.3" fill="none"/>
<path d="M947.3 990.3V999.5" stroke="#1a1a1a" stroke-width="1.2" fill="none"/>
<path d="M940.5 990.3H954.1M940.5 999.5H954.1" stroke="#141414" stroke-width="1.3" fill="none"/>
<path d="M965.77 994.9V1005.6" stroke="#1a1a1a" stroke-width="1.2" fill="none"/>
<path d="M958.97 994.9H972.57M958.97 1005.6H972.57" stroke="#141414" stroke-width="1.3" fill="none"/>
<path d="M997.05 989.8V997" stroke="#1a1a1a" stroke-width="1.2" fill="none"/>
<path d="M990.25 989.8H1003.85M990.25 997H1003.85" stroke="#141414" stroke-width="1.3" fill="none"/>
<path d="M1015.52 999.3V1007.4" stroke="#1a1a1a" stroke-width="1.2" fill="none"/>
<path d="M1008.72 999.3H1022.32M1008.72 1007.4H1022.32" stroke="#141414" stroke-width="1.3" fill="none"/>
<path d="M1033.98 1009.7V1015.4" stroke="#1a1a1a" stroke-width="1.2" fill="none"/>
<path d="M1027.18 1009.7H1040.78M1027.18 1015.4H1040.78" stroke="#141414" stroke-width="1.3" fill="none"/>
<path d="M1052.45 1015.1V1019.4" stroke="#1a1a1a" stroke-width="1.2" fill="none"/>
<path d="M1045.65 1015.1H1059.25M1045.65 1019.4H1059.25" stroke="#141414" stroke-width="1.3" fill="none"/>
<path d="M1083.73 1015.4V1026.6" stroke="#1a1a1a" stroke-width="1.2" fill="none"/>
<path d="M1076.93 1015.4H1090.53M1076.93 1026.6H1090.53" stroke="#141414" stroke-width="1.3" fill="none"/>
<path d="M1102.2 1020.1V1030.4" stroke="#1a1a1a" stroke-width="1.2" fill="none"/>
<path d="M1095.4 1020.1H1109M1095.4 1030.4H1109" stroke="#141414" stroke-width="1.3" fill="none"/>
<path d="M1120.66 1035.3V1043" stroke="#1a1a1a" stroke-width="1.2" fill="none"/>
<path d="M1113.86 1035.3H1127.46M1113.86 1043H1127.46" stroke="#141414" stroke-width="1.3" fill="none"/>
<path d="M1139.13 1035.3V1046.2" stroke="#1a1a1a" stroke-width="1.2" fill="none"/>
<path d="M1132.33 1035.3H1145.93M1132.33 1046.2H1145.93" stroke="#141414" stroke-width="1.3" fill="none"/>
<text x="130.6" y="1002.1" font-size="24" text-anchor="middle">a</text>
<text x="148.9" y="1004.4" font-size="24" text-anchor="middle">a</text>
<text x="166.7" y="1001.4" font-size="24" text-anchor="middle">ab</text>
<text x="185.4" y="1010.3" font-size="24" text-anchor="middle">abc</text>
<text x="216.8" y="1008.3" font-size="24" text-anchor="middle">ab</text>
<text x="235.2" y="987.6" font-size="24" text-anchor="middle">abcd</text>
<text x="253.7" y="1017" font-size="24" text-anchor="middle">bcde</text>
<text x="273.5" y="1028.2" font-size="24" text-anchor="middle">ef</text>
<text x="304.9" y="1027.4" font-size="24" text-anchor="middle">cdef</text>
<text x="323.3" y="1000.1" font-size="24" text-anchor="middle">def</text>
<text x="341.4" y="1035.9" font-size="24" text-anchor="middle">ef</text>
<text x="360.4" y="1038.9" font-size="24" text-anchor="middle">f</text>
<text x="390.2" y="1025.9" font-size="24" text-anchor="middle">cdef</text>
<text x="410.2" y="1034.3" font-size="24" text-anchor="middle">ef</text>
<text x="428.5" y="1037.4" font-size="24" text-anchor="middle">f</text>
<text x="446.9" y="1042" font-size="24" text-anchor="middle">f</text>
<text x="477.2" y="897.3" font-size="24" text-anchor="middle">a</text>
<text x="495.5" y="912.1" font-size="24" text-anchor="middle">ab</text>
<text x="513.2" y="938.2" font-size="24" text-anchor="middle">cd</text>
<text x="532.3" y="946.6" font-size="24" text-anchor="middle">cd</text>
<text x="564.4" y="931.3" font-size="24" text-anchor="middle">bc</text>
<text x="582.1" y="958.9" font-size="24" text-anchor="middle">de</text>
<text x="601.9" y="963.8" font-size="24" text-anchor="middle">ef</text>
<text x="619.4" y="988.3" font-size="24" text-anchor="middle">fgh</text>
<text x="650" y="983.7" font-size="24" text-anchor="middle">fg</text>
<text x="668.7" y="977.5" font-size="24" text-anchor="middle">fg</text>
<text x="687.1" y="992.9" font-size="24" text-anchor="middle">gh</text>
<text x="705" y="1005.1" font-size="24" text-anchor="middle">h</text>
<text x="736.9" y="983.7" font-size="24" text-anchor="middle">gh</text>
<text x="755.3" y="1029.2" font-size="24" text-anchor="middle">i</text>
<text x="773.7" y="1034.6" font-size="24" text-anchor="middle">ij</text>
<text x="791.3" y="1053" font-size="24" text-anchor="middle">j</text>
<text x="824.2" y="910.6" font-size="24" text-anchor="middle">a</text>
<text x="842.1" y="927.5" font-size="24" text-anchor="middle">b</text>
<text x="860.5" y="966.2" font-size="24" text-anchor="middle">d</text>
<text x="878.9" y="949.7" font-size="24" text-anchor="middle">c</text>
<text x="910.4" y="932.8" font-size="24" text-anchor="middle">b</text>
<text x="929.4" y="943.2" font-size="24" text-anchor="middle">bc</text>
<text x="947.5" y="983.1" font-size="24" text-anchor="middle">e</text>
<text x="966.2" y="988.3" font-size="24" text-anchor="middle">ef</text>
<text x="997.5" y="983.2" font-size="24" text-anchor="middle">e</text>
<text x="1016.7" y="992.4" font-size="24" text-anchor="middle">ef</text>
<text x="1034" y="1002.5" font-size="24" text-anchor="middle">fg</text>
<text x="1053.5" y="1009" font-size="24" text-anchor="middle">g</text>
<text x="1083.8" y="1009" font-size="24" text-anchor="middle">g</text>
<text x="1102.2" y="1013.6" font-size="24" text-anchor="middle">g</text>
<text x="1120.1" y="1028.6" font-size="24" text-anchor="middle">h</text>
<text x="1138.5" y="1028.6" font-size="24" text-anchor="middle">h</text>
<path d="M102.8 863.9V1076.3H1155.8" stroke="#000" stroke-width="1.8" fill="none"/>
<text x="94" y="1084.6" font-size="27.5" text-anchor="end">0.0</text>
<line x1="102.8" y1="1005.5" x2="109.3" y2="1005.5" stroke="#000" stroke-width="1.8"/>
<text x="94" y="1013.8" font-size="27.5" text-anchor="end">0.4</text>
<line x1="102.8" y1="934.7" x2="109.3" y2="934.7" stroke="#000" stroke-width="1.8"/>
<text x="94" y="943" font-size="27.5" text-anchor="end">0.8</text>
<line x1="102.8" y1="863.9" x2="109.3" y2="863.9" stroke="#000" stroke-width="1.8"/>
<text x="94" y="872.2" font-size="27.5" text-anchor="end">1.2</text>
<text x="157.95" y="1106.1" font-size="27.3" text-anchor="middle">BC0</text>
<text x="244.63" y="1106.1" font-size="27.3" text-anchor="middle">BC1</text>
<text x="331.31" y="1106.1" font-size="27.3" text-anchor="middle">BC5</text>
<text x="417.99" y="1106.1" font-size="27.3" text-anchor="middle">BC10</text>
<text x="504.67" y="1106.1" font-size="27.3" text-anchor="middle">BC0</text>
<text x="591.35" y="1106.1" font-size="27.3" text-anchor="middle">BC1</text>
<text x="678.03" y="1106.1" font-size="27.3" text-anchor="middle">BC5</text>
<text x="764.71" y="1106.1" font-size="27.3" text-anchor="middle">BC10</text>
<text x="851.39" y="1106.1" font-size="27.3" text-anchor="middle">BC0</text>
<text x="938.07" y="1106.1" font-size="27.3" text-anchor="middle">BC1</text>
<text x="1024.75" y="1106.1" font-size="27.3" text-anchor="middle">BC5</text>
<text x="1111.43" y="1106.1" font-size="27.3" text-anchor="middle">BC10</text>
<line x1="461.33" y1="1337.9" x2="461.33" y2="1125.4" stroke="#ff1010" stroke-width="2" stroke-dasharray="8.6 8.73"/>
<line x1="808.05" y1="1337.9" x2="808.05" y2="1125.4" stroke="#ff1010" stroke-width="2" stroke-dasharray="8.6 8.73"/>
<rect x="123.45" y="1160.3" width="13.6" height="177.6" fill="#a6ffff" stroke="#1e1e1e" stroke-width="1"/>
<rect x="141.92" y="1185.9" width="13.6" height="152" fill="#3c3cff" stroke="#1e1e1e" stroke-width="1"/>
<rect x="160.38" y="1204.6" width="13.6" height="133.3" fill="#ffff00" stroke="#1e1e1e" stroke-width="1"/>
<rect x="178.85" y="1205.9" width="13.6" height="132" fill="#ff0000" stroke="#1e1e1e" stroke-width="1"/>
<line x1="157.95" y1="1331.4" x2="157.95" y2="1337.9" stroke="#111" stroke-width="1.5"/>
<rect x="210.13" y="1198.6" width="13.6" height="139.3" fill="#a6ffff" stroke="#1e1e1e" stroke-width="1"/>
<rect x="228.6" y="1227.6" width="13.6" height="110.3" fill="#3c3cff" stroke="#1e1e1e" stroke-width="1"/>
<rect x="247.06" y="1236.5" width="13.6" height="101.4" fill="#ffff00" stroke="#1e1e1e" stroke-width="1"/>
<rect x="265.53" y="1259.5" width="13.6" height="78.4" fill="#ff0000" stroke="#1e1e1e" stroke-width="1"/>
<line x1="244.63" y1="1331.4" x2="244.63" y2="1337.9" stroke="#111" stroke-width="1.5"/>
<rect x="296.81" y="1256.7" width="13.6" height="81.2" fill="#a6ffff" stroke="#1e1e1e" stroke-width="1"/>
<rect x="315.28" y="1262" width="13.6" height="75.9" fill="#3c3cff" stroke="#1e1e1e" stroke-width="1"/>
<rect x="333.74" y="1267.4" width="13.6" height="70.5" fill="#ffff00" stroke="#1e1e1e" stroke-width="1"/>
<rect x="352.21" y="1276.3" width="13.6" height="61.6" fill="#ff0000" stroke="#1e1e1e" stroke-width="1"/>
<line x1="331.31" y1="1331.4" x2="331.31" y2="1337.9" stroke="#111" stroke-width="1.5"/>
<rect x="383.49" y="1302.3" width="13.6" height="35.6" fill="#a6ffff" stroke="#1e1e1e" stroke-width="1"/>
<rect x="401.96" y="1305.4" width="13.6" height="32.5" fill="#3c3cff" stroke="#1e1e1e" stroke-width="1"/>
<rect x="420.42" y="1321.5" width="13.6" height="16.4" fill="#ffff00" stroke="#1e1e1e" stroke-width="1"/>
<rect x="438.89" y="1297.7" width="13.6" height="40.2" fill="#ff0000" stroke="#1e1e1e" stroke-width="1"/>
<line x1="417.99" y1="1331.4" x2="417.99" y2="1337.9" stroke="#111" stroke-width="1.5"/>
<rect x="470.17" y="1260.2" width="13.6" height="77.7" fill="#a6ffff" stroke="#1e1e1e" stroke-width="1"/>
<rect x="488.64" y="1275.8" width="13.6" height="62.1" fill="#3c3cff" stroke="#1e1e1e" stroke-width="1"/>
<rect x="507.1" y="1294.5" width="13.6" height="43.4" fill="#ffff00" stroke="#1e1e1e" stroke-width="1"/>
<rect x="525.57" y="1298.5" width="13.6" height="39.4" fill="#ff0000" stroke="#1e1e1e" stroke-width="1"/>
<line x1="504.67" y1="1331.4" x2="504.67" y2="1337.9" stroke="#111" stroke-width="1.5"/>
<rect x="556.85" y="1273.5" width="13.6" height="64.4" fill="#a6ffff" stroke="#1e1e1e" stroke-width="1"/>
<rect x="575.32" y="1288.1" width="13.6" height="49.8" fill="#3c3cff" stroke="#1e1e1e" stroke-width="1"/>
<rect x="593.78" y="1295.4" width="13.6" height="42.5" fill="#ffff00" stroke="#1e1e1e" stroke-width="1"/>
<rect x="612.25" y="1299.6" width="13.6" height="38.3" fill="#ff0000" stroke="#1e1e1e" stroke-width="1"/>
<line x1="591.35" y1="1331.4" x2="591.35" y2="1337.9" stroke="#111" stroke-width="1.5"/>
<rect x="643.53" y="1278.6" width="13.6" height="59.3" fill="#a6ffff" stroke="#1e1e1e" stroke-width="1"/>
<rect x="662" y="1288.5" width="13.6" height="49.4" fill="#3c3cff" stroke="#1e1e1e" stroke-width="1"/>
<rect x="680.46" y="1307.7" width="13.6" height="30.2" fill="#ffff00" stroke="#1e1e1e" stroke-width="1"/>
<rect x="698.93" y="1309.1" width="13.6" height="28.8" fill="#ff0000" stroke="#1e1e1e" stroke-width="1"/>
<line x1="678.03" y1="1331.4" x2="678.03" y2="1337.9" stroke="#111" stroke-width="1.5"/>
<rect x="730.21" y="1276.1" width="13.6" height="61.8" fill="#a6ffff" stroke="#1e1e1e" stroke-width="1"/>
<rect x="748.68" y="1299.6" width="13.6" height="38.3" fill="#3c3cff" stroke="#1e1e1e" stroke-width="1"/>
<rect x="767.14" y="1308.8" width="13.6" height="29.1" fill="#ffff00" stroke="#1e1e1e" stroke-width="1"/>
<rect x="785.61" y="1310.6" width="13.6" height="27.3" fill="#ff0000" stroke="#1e1e1e" stroke-width="1"/>
<line x1="764.71" y1="1331.4" x2="764.71" y2="1337.9" stroke="#111" stroke-width="1.5"/>
<rect x="816.89" y="1177.5" width="13.6" height="160.4" fill="#a6ffff" stroke="#1e1e1e" stroke-width="1"/>
<rect x="835.36" y="1218.6" width="13.6" height="119.3" fill="#3c3cff" stroke="#1e1e1e" stroke-width="1"/>
<rect x="853.82" y="1220.7" width="13.6" height="117.2" fill="#ffff00" stroke="#1e1e1e" stroke-width="1"/>
<rect x="872.29" y="1260.6" width="13.6" height="77.3" fill="#ff0000" stroke="#1e1e1e" stroke-width="1"/>
<line x1="851.39" y1="1331.4" x2="851.39" y2="1337.9" stroke="#111" stroke-width="1.5"/>
<rect x="903.57" y="1201.6" width="13.6" height="136.3" fill="#a6ffff" stroke="#1e1e1e" stroke-width="1"/>
<rect x="922.04" y="1244.2" width="13.6" height="93.7" fill="#3c3cff" stroke="#1e1e1e" stroke-width="1"/>
<rect x="940.5" y="1281.7" width="13.6" height="56.2" fill="#ffff00" stroke="#1e1e1e" stroke-width="1"/>
<rect x="958.97" y="1257.5" width="13.6" height="80.4" fill="#ff0000" stroke="#1e1e1e" stroke-width="1"/>
<line x1="938.07" y1="1331.4" x2="938.07" y2="1337.9" stroke="#111" stroke-width="1.5"/>
<rect x="990.25" y="1239.2" width="13.6" height="98.7" fill="#a6ffff" stroke="#1e1e1e" stroke-width="1"/>
<rect x="1008.72" y="1267.5" width="13.6" height="70.4" fill="#3c3cff" stroke="#1e1e1e" stroke-width="1"/>
<rect x="1027.18" y="1294.3" width="13.6" height="43.6" fill="#ffff00" stroke="#1e1e1e" stroke-width="1"/>
<rect x="1045.65" y="1290.8" width="13.6" height="47.1" fill="#ff0000" stroke="#1e1e1e" stroke-width="1"/>
<line x1="1024.75" y1="1331.4" x2="1024.75" y2="1337.9" stroke="#111" stroke-width="1.5"/>
<rect x="1076.93" y="1311.6" width="13.6" height="26.3" fill="#a6ffff" stroke="#1e1e1e" stroke-width="1"/>
<rect x="1095.4" y="1315.8" width="13.6" height="22.1" fill="#3c3cff" stroke="#1e1e1e" stroke-width="1"/>
<rect x="1113.86" y="1317.6" width="13.6" height="20.3" fill="#ffff00" stroke="#1e1e1e" stroke-width="1"/>
<rect x="1132.33" y="1323.4" width="13.6" height="14.5" fill="#ff0000" stroke="#1e1e1e" stroke-width="1"/>
<line x1="1111.43" y1="1331.4" x2="1111.43" y2="1337.9" stroke="#111" stroke-width="1.5"/>
<path d="M130.25 1156.4V1164.5" stroke="#1a1a1a" stroke-width="1.2" fill="none"/>
<path d="M123.45 1156.4H137.05M123.45 1164.5H137.05" stroke="#141414" stroke-width="1.3" fill="none"/>
<path d="M148.72 1179.3V1192.5" stroke="#1a1a1a" stroke-width="1.2" fill="none"/>
<path d="M141.92 1179.3H155.52M141.92 1192.5H155.52" stroke="#141414" stroke-width="1.3" fill="none"/>
<path d="M167.18 1200V1208.9" stroke="#1a1a1a" stroke-width="1.2" fill="none"/>
<path d="M160.38 1200H173.98M160.38 1208.9H173.98" stroke="#141414" stroke-width="1.3" fill="none"/>
<path d="M185.65 1202V1209.7" stroke="#1a1a1a" stroke-width="1.2" fill="none"/>
<path d="M178.85 1202H192.45M178.85 1209.7H192.45" stroke="#141414" stroke-width="1.3" fill="none"/>
<path d="M216.93 1191V1205.1" stroke="#1a1a1a" stroke-width="1.2" fill="none"/>
<path d="M210.13 1191H223.73M210.13 1205.1H223.73" stroke="#141414" stroke-width="1.3" fill="none"/>
<path d="M235.4 1223.2V1231.1" stroke="#1a1a1a" stroke-width="1.2" fill="none"/>
<path d="M228.6 1223.2H242.2M228.6 1231.1H242.2" stroke="#141414" stroke-width="1.3" fill="none"/>
<path d="M253.86 1229.6V1243.4" stroke="#1a1a1a" stroke-width="1.2" fill="none"/>
<path d="M247.06 1229.6H260.66M247.06 1243.4H260.66" stroke="#141414" stroke-width="1.3" fill="none"/>
<path d="M272.33 1253.4V1264.4" stroke="#1a1a1a" stroke-width="1.2" fill="none"/>
<path d="M265.53 1253.4H279.13M265.53 1264.4H279.13" stroke="#141414" stroke-width="1.3" fill="none"/>
<path d="M303.61 1249V1263.9" stroke="#1a1a1a" stroke-width="1.2" fill="none"/>
<path d="M296.81 1249H310.41M296.81 1263.9H310.41" stroke="#141414" stroke-width="1.3" fill="none"/>
<path d="M322.08 1254.4V1268.9" stroke="#1a1a1a" stroke-width="1.2" fill="none"/>
<path d="M315.28 1254.4H328.88M315.28 1268.9H328.88" stroke="#141414" stroke-width="1.3" fill="none"/>
<path d="M340.54 1263.6V1270.4" stroke="#1a1a1a" stroke-width="1.2" fill="none"/>
<path d="M333.74 1263.6H347.34M333.74 1270.4H347.34" stroke="#141414" stroke-width="1.3" fill="none"/>
<path d="M359.01 1268.5V1283.5" stroke="#1a1a1a" stroke-width="1.2" fill="none"/>
<path d="M352.21 1268.5H365.81M352.21 1283.5H365.81" stroke="#141414" stroke-width="1.3" fill="none"/>
<path d="M390.29 1296.2V1307.7" stroke="#1a1a1a" stroke-width="1.2" fill="none"/>
<path d="M383.49 1296.2H397.09M383.49 1307.7H397.09" stroke="#141414" stroke-width="1.3" fill="none"/>
<path d="M408.76 1299.6V1310.7" stroke="#1a1a1a" stroke-width="1.2" fill="none"/>
<path d="M401.96 1299.6H415.56M401.96 1310.7H415.56" stroke="#141414" stroke-width="1.3" fill="none"/>
<path d="M427.22 1317.6V1325.2" stroke="#1a1a1a" stroke-width="1.2" fill="none"/>
<path d="M420.42 1317.6H434.02M420.42 1325.2H434.02" stroke="#141414" stroke-width="1.3" fill="none"/>
<path d="M445.69 1293.4V1301.6" stroke="#1a1a1a" stroke-width="1.2" fill="none"/>
<path d="M438.89 1293.4H452.49M438.89 1301.6H452.49" stroke="#141414" stroke-width="1.3" fill="none"/>
<path d="M476.97 1249.5V1269.4" stroke="#1a1a1a" stroke-width="1.2" fill="none"/>
<path d="M470.17 1249.5H483.77M470.17 1269.4H483.77" stroke="#141414" stroke-width="1.3" fill="none"/>
<path d="M495.44 1268.9V1281.5" stroke="#1a1a1a" stroke-width="1.2" fill="none"/>
<path d="M488.64 1268.9H502.24M488.64 1281.5H502.24" stroke="#141414" stroke-width="1.3" fill="none"/>
<path d="M513.9 1286.2V1301.6" stroke="#1a1a1a" stroke-width="1.2" fill="none"/>
<path d="M507.1 1286.2H520.7M507.1 1301.6H520.7" stroke="#141414" stroke-width="1.3" fill="none"/>
<path d="M532.37 1294.5V1301.9" stroke="#1a1a1a" stroke-width="1.2" fill="none"/>
<path d="M525.57 1294.5H539.17M525.57 1301.9H539.17" stroke="#141414" stroke-width="1.3" fill="none"/>
<path d="M563.65 1266.6V1280.1" stroke="#1a1a1a" stroke-width="1.2" fill="none"/>
<path d="M556.85 1266.6H570.45M556.85 1280.1H570.45" stroke="#141414" stroke-width="1.3" fill="none"/>
<path d="M582.12 1278.6V1296.5" stroke="#1a1a1a" stroke-width="1.2" fill="none"/>
<path d="M575.32 1278.6H588.92M575.32 1296.5H588.92" stroke="#141414" stroke-width="1.3" fill="none"/>
<path d="M600.58 1286.8V1303.4" stroke="#1a1a1a" stroke-width="1.2" fill="none"/>
<path d="M593.78 1286.8H607.38M593.78 1303.4H607.38" stroke="#141414" stroke-width="1.3" fill="none"/>
<path d="M619.05 1288.4V1309.5" stroke="#1a1a1a" stroke-width="1.2" fill="none"/>
<path d="M612.25 1288.4H625.85M612.25 1309.5H625.85" stroke="#141414" stroke-width="1.3" fill="none"/>
<path d="M650.33 1272.4V1285" stroke="#1a1a1a" stroke-width="1.2" fill="none"/>
<path d="M643.53 1272.4H657.13M643.53 1285H657.13" stroke="#141414" stroke-width="1.3" fill="none"/>
<path d="M668.8 1285.3V1291.4" stroke="#1a1a1a" stroke-width="1.2" fill="none"/>
<path d="M662 1285.3H675.6M662 1291.4H675.6" stroke="#141414" stroke-width="1.3" fill="none"/>
<path d="M687.26 1302.6V1312.6" stroke="#1a1a1a" stroke-width="1.2" fill="none"/>
<path d="M680.46 1302.6H694.06M680.46 1312.6H694.06" stroke="#141414" stroke-width="1.3" fill="none"/>
<path d="M705.73 1301.4V1315.3" stroke="#1a1a1a" stroke-width="1.2" fill="none"/>
<path d="M698.93 1301.4H712.53M698.93 1315.3H712.53" stroke="#141414" stroke-width="1.3" fill="none"/>
<path d="M737.01 1268.6V1282.4" stroke="#1a1a1a" stroke-width="1.2" fill="none"/>
<path d="M730.21 1268.6H743.81M730.21 1282.4H743.81" stroke="#141414" stroke-width="1.3" fill="none"/>
<path d="M755.48 1292.4V1306.5" stroke="#1a1a1a" stroke-width="1.2" fill="none"/>
<path d="M748.68 1292.4H762.28M748.68 1306.5H762.28" stroke="#141414" stroke-width="1.3" fill="none"/>
<path d="M773.94 1296.5V1320.7" stroke="#1a1a1a" stroke-width="1.2" fill="none"/>
<path d="M767.14 1296.5H780.74M767.14 1320.7H780.74" stroke="#141414" stroke-width="1.3" fill="none"/>
<path d="M792.41 1303.4V1317.2" stroke="#1a1a1a" stroke-width="1.2" fill="none"/>
<path d="M785.61 1303.4H799.21M785.61 1317.2H799.21" stroke="#141414" stroke-width="1.3" fill="none"/>
<path d="M823.69 1170.1V1184.1" stroke="#1a1a1a" stroke-width="1.2" fill="none"/>
<path d="M816.89 1170.1H830.49M816.89 1184.1H830.49" stroke="#141414" stroke-width="1.3" fill="none"/>
<path d="M842.16 1215V1221.6" stroke="#1a1a1a" stroke-width="1.2" fill="none"/>
<path d="M835.36 1215H848.96M835.36 1221.6H848.96" stroke="#141414" stroke-width="1.3" fill="none"/>
<path d="M860.62 1210.4V1230.4" stroke="#1a1a1a" stroke-width="1.2" fill="none"/>
<path d="M853.82 1210.4H867.42M853.82 1230.4H867.42" stroke="#141414" stroke-width="1.3" fill="none"/>
<path d="M879.09 1256.9V1263.6" stroke="#1a1a1a" stroke-width="1.2" fill="none"/>
<path d="M872.29 1256.9H885.89M872.29 1263.6H885.89" stroke="#141414" stroke-width="1.3" fill="none"/>
<path d="M910.37 1188.2V1215.4" stroke="#1a1a1a" stroke-width="1.2" fill="none"/>
<path d="M903.57 1188.2H917.17M903.57 1215.4H917.17" stroke="#141414" stroke-width="1.3" fill="none"/>
<path d="M928.84 1236.2V1251.4" stroke="#1a1a1a" stroke-width="1.2" fill="none"/>
<path d="M922.04 1236.2H935.64M922.04 1251.4H935.64" stroke="#141414" stroke-width="1.3" fill="none"/>
<path d="M947.3 1276.8V1285.1" stroke="#1a1a1a" stroke-width="1.2" fill="none"/>
<path d="M940.5 1276.8H954.1M940.5 1285.1H954.1" stroke="#141414" stroke-width="1.3" fill="none"/>
<path d="M965.77 1243.1V1270.7" stroke="#1a1a1a" stroke-width="1.2" fill="none"/>
<path d="M958.97 1243.1H972.57M958.97 1270.7H972.57" stroke="#141414" stroke-width="1.3" fill="none"/>
<path d="M997.05 1233.5V1243.8" stroke="#1a1a1a" stroke-width="1.2" fill="none"/>
<path d="M990.25 1233.5H1003.85M990.25 1243.8H1003.85" stroke="#141414" stroke-width="1.3" fill="none"/>
<path d="M1015.52 1261.1V1273.3" stroke="#1a1a1a" stroke-width="1.2" fill="none"/>
<path d="M1008.72 1261.1H1022.32M1008.72 1273.3H1022.32" stroke="#141414" stroke-width="1.3" fill="none"/>
<path d="M1033.98 1287.4V1299.7" stroke="#1a1a1a" stroke-width="1.2" fill="none"/>
<path d="M1027.18 1287.4H1040.78M1027.18 1299.7H1040.78" stroke="#141414" stroke-width="1.3" fill="none"/>
<path d="M1052.45 1278.7V1302.4" stroke="#1a1a1a" stroke-width="1.2" fill="none"/>
<path d="M1045.65 1278.7H1059.25M1045.65 1302.4H1059.25" stroke="#141414" stroke-width="1.3" fill="none"/>
<path d="M1083.73 1305.8V1316.8" stroke="#1a1a1a" stroke-width="1.2" fill="none"/>
<path d="M1076.93 1305.8H1090.53M1076.93 1316.8H1090.53" stroke="#141414" stroke-width="1.3" fill="none"/>
<path d="M1102.2 1310.4V1321.1" stroke="#1a1a1a" stroke-width="1.2" fill="none"/>
<path d="M1095.4 1310.4H1109M1095.4 1321.1H1109" stroke="#141414" stroke-width="1.3" fill="none"/>
<path d="M1120.66 1311.6V1323.4" stroke="#1a1a1a" stroke-width="1.2" fill="none"/>
<path d="M1113.86 1311.6H1127.46M1113.86 1323.4H1127.46" stroke="#141414" stroke-width="1.3" fill="none"/>
<path d="M1139.13 1321.1V1325.4" stroke="#1a1a1a" stroke-width="1.2" fill="none"/>
<path d="M1132.33 1321.1H1145.93M1132.33 1325.4H1145.93" stroke="#141414" stroke-width="1.3" fill="none"/>
<text x="130.6" y="1149.9" font-size="24" text-anchor="middle">a</text>
<text x="148.6" y="1172.1" font-size="24" text-anchor="middle">b</text>
<text x="167.3" y="1193.1" font-size="24" text-anchor="middle">c</text>
<text x="185.7" y="1195.1" font-size="24" text-anchor="middle">c</text>
<text x="217.4" y="1184.4" font-size="24" text-anchor="middle">bc</text>
<text x="235.5" y="1217" font-size="24" text-anchor="middle">d</text>
<text x="253.8" y="1222.7" font-size="24" text-anchor="middle">d</text>
<text x="273.5" y="1247.2" font-size="24" text-anchor="middle">ef</text>
<text x="303.7" y="1242.9" font-size="24" text-anchor="middle">e</text>
<text x="323.1" y="1247.9" font-size="24" text-anchor="middle">ef</text>
<text x="341.5" y="1256.7" font-size="24" text-anchor="middle">ef</text>
<text x="360" y="1262" font-size="24" text-anchor="middle">f</text>
<text x="390.7" y="1289.6" font-size="24" text-anchor="middle">g</text>
<text x="408.8" y="1292.7" font-size="24" text-anchor="middle">g</text>
<text x="427" y="1311.1" font-size="24" text-anchor="middle">h</text>
<text x="445.9" y="1286.5" font-size="24" text-anchor="middle">g</text>
<text x="477.2" y="1242.9" font-size="24" text-anchor="middle">a</text>
<text x="495.5" y="1261.7" font-size="24" text-anchor="middle">abc</text>
<text x="513.9" y="1278.9" font-size="24" text-anchor="middle">bcd</text>
<text x="532" y="1292.7" font-size="24" text-anchor="middle">bcd</text>
<text x="563.7" y="1260.2" font-size="24" text-anchor="middle">ab</text>
<text x="582.6" y="1271.2" font-size="24" text-anchor="middle">bcd</text>
<text x="601" y="1285.8" font-size="24" text-anchor="middle">bcd</text>
<text x="621.2" y="1265.9" font-size="24" text-anchor="middle">cd</text>
<text x="650.3" y="1265.4" font-size="24" text-anchor="middle">abc</text>
<text x="669" y="1278.1" font-size="24" text-anchor="middle">bcd</text>
<text x="687.1" y="1295.4" font-size="24" text-anchor="middle">d</text>
<text x="705.8" y="1295.4" font-size="24" text-anchor="middle">d</text>
<text x="737.2" y="1262" font-size="24" text-anchor="middle">abc</text>
<text x="754.8" y="1285.8" font-size="24" text-anchor="middle">cd</text>
<text x="773.7" y="1290.4" font-size="24" text-anchor="middle">d</text>
<text x="791.9" y="1296.5" font-size="24" text-anchor="middle">d</text>
<text x="824.2" y="1163.4" font-size="24" text-anchor="middle">a</text>
<text x="841.9" y="1208.1" font-size="24" text-anchor="middle">bc</text>
<text x="860.6" y="1204.3" font-size="24" text-anchor="middle">bc</text>
<text x="880.1" y="1249.5" font-size="24" text-anchor="middle">def</text>
<text x="910.7" y="1181.8" font-size="24" text-anchor="middle">b</text>
<text x="929.3" y="1229.6" font-size="24" text-anchor="middle">de</text>
<text x="947.7" y="1270.2" font-size="24" text-anchor="middle">fg</text>
<text x="965.7" y="1235.7" font-size="24" text-anchor="middle">de</text>
<text x="997.2" y="1226.9" font-size="24" text-anchor="middle">cd</text>
<text x="1016.2" y="1254" font-size="24" text-anchor="middle">ef</text>
<text x="1030.9" y="1280.5" font-size="24" text-anchor="middle">gh</text>
<text x="1051.9" y="1272.9" font-size="24" text-anchor="middle">gh</text>
<text x="1083.3" y="1299.4" font-size="24" text-anchor="middle">hij</text>
<text x="1102.2" y="1304" font-size="24" text-anchor="middle">ij</text>
<text x="1119.8" y="1305.4" font-size="24" text-anchor="middle">j</text>
<text x="1137.7" y="1315.4" font-size="24" text-anchor="middle">j</text>
<path d="M102.8 1125.4V1337.9H1155.8" stroke="#000" stroke-width="1.8" fill="none"/>
<text x="94" y="1346.2" font-size="27.5" text-anchor="end">0.0</text>
<line x1="102.8" y1="1267.07" x2="109.3" y2="1267.07" stroke="#000" stroke-width="1.8"/>
<text x="94" y="1275.37" font-size="27.5" text-anchor="end">0.4</text>
<line x1="102.8" y1="1196.23" x2="109.3" y2="1196.23" stroke="#000" stroke-width="1.8"/>
<text x="94" y="1204.53" font-size="27.5" text-anchor="end">0.8</text>
<line x1="102.8" y1="1125.4" x2="109.3" y2="1125.4" stroke="#000" stroke-width="1.8"/>
<text x="94" y="1133.7" font-size="27.5" text-anchor="end">1.2</text>
<text x="157.95" y="1367.7" font-size="27.3" text-anchor="middle">BC0</text>
<text x="244.63" y="1367.7" font-size="27.3" text-anchor="middle">BC1</text>
<text x="331.31" y="1367.7" font-size="27.3" text-anchor="middle">BC5</text>
<text x="417.99" y="1367.7" font-size="27.3" text-anchor="middle">BC10</text>
<text x="504.67" y="1367.7" font-size="27.3" text-anchor="middle">BC0</text>
<text x="591.35" y="1367.7" font-size="27.3" text-anchor="middle">BC1</text>
<text x="678.03" y="1367.7" font-size="27.3" text-anchor="middle">BC5</text>
<text x="764.71" y="1367.7" font-size="27.3" text-anchor="middle">BC10</text>
<text x="851.39" y="1367.7" font-size="27.3" text-anchor="middle">BC0</text>
<text x="938.07" y="1367.7" font-size="27.3" text-anchor="middle">BC1</text>
<text x="1024.75" y="1367.7" font-size="27.3" text-anchor="middle">BC5</text>
<text x="1111.43" y="1367.7" font-size="27.3" text-anchor="middle">BC10</text>
<line x1="461.33" y1="1599.7" x2="461.33" y2="1386.6" stroke="#ff1010" stroke-width="2" stroke-dasharray="8.6 8.73"/>
<line x1="808.05" y1="1599.7" x2="808.05" y2="1386.6" stroke="#ff1010" stroke-width="2" stroke-dasharray="8.6 8.73"/>
<rect x="123.45" y="1427.5" width="13.6" height="172.2" fill="#a6ffff" stroke="#1e1e1e" stroke-width="1"/>
<rect x="141.92" y="1435.7" width="13.6" height="164" fill="#3c3cff" stroke="#1e1e1e" stroke-width="1"/>
<rect x="160.38" y="1467.8" width="13.6" height="131.9" fill="#ffff00" stroke="#1e1e1e" stroke-width="1"/>
<rect x="178.85" y="1481.2" width="13.6" height="118.5" fill="#ff0000" stroke="#1e1e1e" stroke-width="1"/>
<line x1="157.95" y1="1593.2" x2="157.95" y2="1599.7" stroke="#111" stroke-width="1.5"/>
<rect x="210.13" y="1458.5" width="13.6" height="141.2" fill="#a6ffff" stroke="#1e1e1e" stroke-width="1"/>
<rect x="228.6" y="1472" width="13.6" height="127.7" fill="#3c3cff" stroke="#1e1e1e" stroke-width="1"/>
<rect x="247.06" y="1490.4" width="13.6" height="109.3" fill="#ffff00" stroke="#1e1e1e" stroke-width="1"/>
<rect x="265.53" y="1495.7" width="13.6" height="104" fill="#ff0000" stroke="#1e1e1e" stroke-width="1"/>
<line x1="244.63" y1="1593.2" x2="244.63" y2="1599.7" stroke="#111" stroke-width="1.5"/>
<rect x="296.81" y="1493.1" width="13.6" height="106.6" fill="#a6ffff" stroke="#1e1e1e" stroke-width="1"/>
<rect x="315.28" y="1486.7" width="13.6" height="113" fill="#3c3cff" stroke="#1e1e1e" stroke-width="1"/>
<rect x="333.74" y="1511.2" width="13.6" height="88.5" fill="#ffff00" stroke="#1e1e1e" stroke-width="1"/>
<rect x="352.21" y="1518.6" width="13.6" height="81.1" fill="#ff0000" stroke="#1e1e1e" stroke-width="1"/>
<line x1="331.31" y1="1593.2" x2="331.31" y2="1599.7" stroke="#111" stroke-width="1.5"/>
<rect x="383.49" y="1519.6" width="13.6" height="80.1" fill="#a6ffff" stroke="#1e1e1e" stroke-width="1"/>
<rect x="401.96" y="1523.8" width="13.6" height="75.9" fill="#3c3cff" stroke="#1e1e1e" stroke-width="1"/>
<rect x="420.42" y="1531.1" width="13.6" height="68.6" fill="#ffff00" stroke="#1e1e1e" stroke-width="1"/>
<rect x="438.89" y="1508.5" width="13.6" height="91.2" fill="#ff0000" stroke="#1e1e1e" stroke-width="1"/>
<line x1="417.99" y1="1593.2" x2="417.99" y2="1599.7" stroke="#111" stroke-width="1.5"/>
<rect x="470.17" y="1437.2" width="13.6" height="162.5" fill="#a6ffff" stroke="#1e1e1e" stroke-width="1"/>
<rect x="488.64" y="1456.2" width="13.6" height="143.5" fill="#3c3cff" stroke="#1e1e1e" stroke-width="1"/>
<rect x="507.1" y="1471.2" width="13.6" height="128.5" fill="#ffff00" stroke="#1e1e1e" stroke-width="1"/>
<rect x="525.57" y="1499.6" width="13.6" height="100.1" fill="#ff0000" stroke="#1e1e1e" stroke-width="1"/>
<line x1="504.67" y1="1593.2" x2="504.67" y2="1599.7" stroke="#111" stroke-width="1.5"/>
<rect x="556.85" y="1453.1" width="13.6" height="146.6" fill="#a6ffff" stroke="#1e1e1e" stroke-width="1"/>
<rect x="575.32" y="1472.7" width="13.6" height="127" fill="#3c3cff" stroke="#1e1e1e" stroke-width="1"/>
<rect x="593.78" y="1474.6" width="13.6" height="125.1" fill="#ffff00" stroke="#1e1e1e" stroke-width="1"/>
<rect x="612.25" y="1511" width="13.6" height="88.7" fill="#ff0000" stroke="#1e1e1e" stroke-width="1"/>
<line x1="591.35" y1="1593.2" x2="591.35" y2="1599.7" stroke="#111" stroke-width="1.5"/>
<rect x="643.53" y="1470.1" width="13.6" height="129.6" fill="#a6ffff" stroke="#1e1e1e" stroke-width="1"/>
<rect x="662" y="1493.1" width="13.6" height="106.6" fill="#3c3cff" stroke="#1e1e1e" stroke-width="1"/>
<rect x="680.46" y="1499.7" width="13.6" height="100" fill="#ffff00" stroke="#1e1e1e" stroke-width="1"/>
<rect x="698.93" y="1510.8" width="13.6" height="88.9" fill="#ff0000" stroke="#1e1e1e" stroke-width="1"/>
<line x1="678.03" y1="1593.2" x2="678.03" y2="1599.7" stroke="#111" stroke-width="1.5"/>
<rect x="730.21" y="1498.6" width="13.6" height="101.1" fill="#a6ffff" stroke="#1e1e1e" stroke-width="1"/>
<rect x="748.68" y="1501.6" width="13.6" height="98.1" fill="#3c3cff" stroke="#1e1e1e" stroke-width="1"/>
<rect x="767.14" y="1511.7" width="13.6" height="88" fill="#ffff00" stroke="#1e1e1e" stroke-width="1"/>
<rect x="785.61" y="1521.6" width="13.6" height="78.1" fill="#ff0000" stroke="#1e1e1e" stroke-width="1"/>
<line x1="764.71" y1="1593.2" x2="764.71" y2="1599.7" stroke="#111" stroke-width="1.5"/>
<rect x="816.89" y="1432.9" width="13.6" height="166.8" fill="#a6ffff" stroke="#1e1e1e" stroke-width="1"/>
<rect x="835.36" y="1463.6" width="13.6" height="136.1" fill="#3c3cff" stroke="#1e1e1e" stroke-width="1"/>
<rect x="853.82" y="1468.9" width="13.6" height="130.8" fill="#ffff00" stroke="#1e1e1e" stroke-width="1"/>
<rect x="872.29" y="1483" width="13.6" height="116.7" fill="#ff0000" stroke="#1e1e1e" stroke-width="1"/>
<line x1="851.39" y1="1593.2" x2="851.39" y2="1599.7" stroke="#111" stroke-width="1.5"/>
<rect x="903.57" y="1454.4" width="13.6" height="145.3" fill="#a6ffff" stroke="#1e1e1e" stroke-width="1"/>
<rect x="922.04" y="1483" width="13.6" height="116.7" fill="#3c3cff" stroke="#1e1e1e" stroke-width="1"/>
<rect x="940.5" y="1488.8" width="13.6" height="110.9" fill="#ffff00" stroke="#1e1e1e" stroke-width="1"/>
<rect x="958.97" y="1493.7" width="13.6" height="106" fill="#ff0000" stroke="#1e1e1e" stroke-width="1"/>
<line x1="938.07" y1="1593.2" x2="938.07" y2="1599.7" stroke="#111" stroke-width="1.5"/>
<rect x="990.25" y="1485.1" width="13.6" height="114.6" fill="#a6ffff" stroke="#1e1e1e" stroke-width="1"/>
<rect x="1008.72" y="1489.3" width="13.6" height="110.4" fill="#3c3cff" stroke="#1e1e1e" stroke-width="1"/>
<rect x="1027.18" y="1498.5" width="13.6" height="101.2" fill="#ffff00" stroke="#1e1e1e" stroke-width="1"/>
<rect x="1045.65" y="1504" width="13.6" height="95.7" fill="#ff0000" stroke="#1e1e1e" stroke-width="1"/>
<line x1="1024.75" y1="1593.2" x2="1024.75" y2="1599.7" stroke="#111" stroke-width="1.5"/>
<rect x="1076.93" y="1487.4" width="13.6" height="112.3" fill="#a6ffff" stroke="#1e1e1e" stroke-width="1"/>
<rect x="1095.4" y="1511.5" width="13.6" height="88.2" fill="#3c3cff" stroke="#1e1e1e" stroke-width="1"/>
<rect x="1113.86" y="1523.4" width="13.6" height="76.3" fill="#ffff00" stroke="#1e1e1e" stroke-width="1"/>
<rect x="1132.33" y="1515.8" width="13.6" height="83.9" fill="#ff0000" stroke="#1e1e1e" stroke-width="1"/>
<line x1="1111.43" y1="1593.2" x2="1111.43" y2="1599.7" stroke="#111" stroke-width="1.5"/>
<path d="M130.25 1416.4V1438.3" stroke="#1a1a1a" stroke-width="1.2" fill="none"/>
<path d="M123.45 1416.4H137.05M123.45 1438.3H137.05" stroke="#141414" stroke-width="1.3" fill="none"/>
<path d="M148.72 1431.4V1439.8" stroke="#1a1a1a" stroke-width="1.2" fill="none"/>
<path d="M141.92 1431.4H155.52M141.92 1439.8H155.52" stroke="#141414" stroke-width="1.3" fill="none"/>
<path d="M167.18 1457.4V1476.6" stroke="#1a1a1a" stroke-width="1.2" fill="none"/>
<path d="M160.38 1457.4H173.98M160.38 1476.6H173.98" stroke="#141414" stroke-width="1.3" fill="none"/>
<path d="M185.65 1474.7V1486.5" stroke="#1a1a1a" stroke-width="1.2" fill="none"/>
<path d="M178.85 1474.7H192.45M178.85 1486.5H192.45" stroke="#141414" stroke-width="1.3" fill="none"/>
<path d="M216.93 1436.7V1479.6" stroke="#1a1a1a" stroke-width="1.2" fill="none"/>
<path d="M210.13 1436.7H223.73M210.13 1479.6H223.73" stroke="#141414" stroke-width="1.3" fill="none"/>
<path d="M235.4 1464.6V1479.6" stroke="#1a1a1a" stroke-width="1.2" fill="none"/>
<path d="M228.6 1464.6H242.2M228.6 1479.6H242.2" stroke="#141414" stroke-width="1.3" fill="none"/>
<path d="M253.86 1485.8V1494.2" stroke="#1a1a1a" stroke-width="1.2" fill="none"/>
<path d="M247.06 1485.8H260.66M247.06 1494.2H260.66" stroke="#141414" stroke-width="1.3" fill="none"/>
<path d="M272.33 1491.1V1500" stroke="#1a1a1a" stroke-width="1.2" fill="none"/>
<path d="M265.53 1491.1H279.13M265.53 1500H279.13" stroke="#141414" stroke-width="1.3" fill="none"/>
<path d="M303.61 1474.4V1512" stroke="#1a1a1a" stroke-width="1.2" fill="none"/>
<path d="M296.81 1474.4H310.41M296.81 1512H310.41" stroke="#141414" stroke-width="1.3" fill="none"/>
<path d="M322.08 1474.4V1498.6" stroke="#1a1a1a" stroke-width="1.2" fill="none"/>
<path d="M315.28 1474.4H328.88M315.28 1498.6H328.88" stroke="#141414" stroke-width="1.3" fill="none"/>
<path d="M340.54 1504.6V1517.7" stroke="#1a1a1a" stroke-width="1.2" fill="none"/>
<path d="M333.74 1504.6H347.34M333.74 1517.7H347.34" stroke="#141414" stroke-width="1.3" fill="none"/>
<path d="M359.01 1511.5V1525.3" stroke="#1a1a1a" stroke-width="1.2" fill="none"/>
<path d="M352.21 1511.5H365.81M352.21 1525.3H365.81" stroke="#141414" stroke-width="1.3" fill="none"/>
<path d="M390.29 1513.5V1525.8" stroke="#1a1a1a" stroke-width="1.2" fill="none"/>
<path d="M383.49 1513.5H397.09M383.49 1525.8H397.09" stroke="#141414" stroke-width="1.3" fill="none"/>
<path d="M408.76 1516.6V1530.4" stroke="#1a1a1a" stroke-width="1.2" fill="none"/>
<path d="M401.96 1516.6H415.56M401.96 1530.4H415.56" stroke="#141414" stroke-width="1.3" fill="none"/>
<path d="M427.22 1527.8V1533.9" stroke="#1a1a1a" stroke-width="1.2" fill="none"/>
<path d="M420.42 1527.8H434.02M420.42 1533.9H434.02" stroke="#141414" stroke-width="1.3" fill="none"/>
<path d="M445.69 1503.9V1512.7" stroke="#1a1a1a" stroke-width="1.2" fill="none"/>
<path d="M438.89 1503.9H452.49M438.89 1512.7H452.49" stroke="#141414" stroke-width="1.3" fill="none"/>
<path d="M476.97 1431.1V1442.4" stroke="#1a1a1a" stroke-width="1.2" fill="none"/>
<path d="M470.17 1431.1H483.77M470.17 1442.4H483.77" stroke="#141414" stroke-width="1.3" fill="none"/>
<path d="M495.44 1450.5V1461.3" stroke="#1a1a1a" stroke-width="1.2" fill="none"/>
<path d="M488.64 1450.5H502.24M488.64 1461.3H502.24" stroke="#141414" stroke-width="1.3" fill="none"/>
<path d="M513.9 1466.3V1476.1" stroke="#1a1a1a" stroke-width="1.2" fill="none"/>
<path d="M507.1 1466.3H520.7M507.1 1476.1H520.7" stroke="#141414" stroke-width="1.3" fill="none"/>
<path d="M532.37 1491.6V1507.5" stroke="#1a1a1a" stroke-width="1.2" fill="none"/>
<path d="M525.57 1491.6H539.17M525.57 1507.5H539.17" stroke="#141414" stroke-width="1.3" fill="none"/>
<path d="M563.65 1447.8V1457.7" stroke="#1a1a1a" stroke-width="1.2" fill="none"/>
<path d="M556.85 1447.8H570.45M556.85 1457.7H570.45" stroke="#141414" stroke-width="1.3" fill="none"/>
<path d="M582.12 1468.9V1476.6" stroke="#1a1a1a" stroke-width="1.2" fill="none"/>
<path d="M575.32 1468.9H588.92M575.32 1476.6H588.92" stroke="#141414" stroke-width="1.3" fill="none"/>
<path d="M600.58 1469.2V1479.9" stroke="#1a1a1a" stroke-width="1.2" fill="none"/>
<path d="M593.78 1469.2H607.38M593.78 1479.9H607.38" stroke="#141414" stroke-width="1.3" fill="none"/>
<path d="M619.05 1504.6V1516.4" stroke="#1a1a1a" stroke-width="1.2" fill="none"/>
<path d="M612.25 1504.6H625.85M612.25 1516.4H625.85" stroke="#141414" stroke-width="1.3" fill="none"/>
<path d="M650.33 1466.5V1473.2" stroke="#1a1a1a" stroke-width="1.2" fill="none"/>
<path d="M643.53 1466.5H657.13M643.53 1473.2H657.13" stroke="#141414" stroke-width="1.3" fill="none"/>
<path d="M668.8 1488.7V1497.1" stroke="#1a1a1a" stroke-width="1.2" fill="none"/>
<path d="M662 1488.7H675.6M662 1497.1H675.6" stroke="#141414" stroke-width="1.3" fill="none"/>
<path d="M687.26 1493.6V1505.4" stroke="#1a1a1a" stroke-width="1.2" fill="none"/>
<path d="M680.46 1493.6H694.06M680.46 1505.4H694.06" stroke="#141414" stroke-width="1.3" fill="none"/>
<path d="M705.73 1505.1V1516.6" stroke="#1a1a1a" stroke-width="1.2" fill="none"/>
<path d="M698.93 1505.1H712.53M698.93 1516.6H712.53" stroke="#141414" stroke-width="1.3" fill="none"/>
<path d="M737.01 1495.1V1501.3" stroke="#1a1a1a" stroke-width="1.2" fill="none"/>
<path d="M730.21 1495.1H743.81M730.21 1501.3H743.81" stroke="#141414" stroke-width="1.3" fill="none"/>
<path d="M755.48 1497.4V1506.6" stroke="#1a1a1a" stroke-width="1.2" fill="none"/>
<path d="M748.68 1497.4H762.28M748.68 1506.6H762.28" stroke="#141414" stroke-width="1.3" fill="none"/>
<path d="M773.94 1506.9V1515.8" stroke="#1a1a1a" stroke-width="1.2" fill="none"/>
<path d="M767.14 1506.9H780.74M767.14 1515.8H780.74" stroke="#141414" stroke-width="1.3" fill="none"/>
<path d="M792.41 1516.1V1526.5" stroke="#1a1a1a" stroke-width="1.2" fill="none"/>
<path d="M785.61 1516.1H799.21M785.61 1526.5H799.21" stroke="#141414" stroke-width="1.3" fill="none"/>
<path d="M823.69 1428.3V1437.2" stroke="#1a1a1a" stroke-width="1.2" fill="none"/>
<path d="M816.89 1428.3H830.49M816.89 1437.2H830.49" stroke="#141414" stroke-width="1.3" fill="none"/>
<path d="M842.16 1459.7V1467.4" stroke="#1a1a1a" stroke-width="1.2" fill="none"/>
<path d="M835.36 1459.7H848.96M835.36 1467.4H848.96" stroke="#141414" stroke-width="1.3" fill="none"/>
<path d="M860.62 1466.2V1471.5" stroke="#1a1a1a" stroke-width="1.2" fill="none"/>
<path d="M853.82 1466.2H867.42M853.82 1471.5H867.42" stroke="#141414" stroke-width="1.3" fill="none"/>
<path d="M879.09 1478.4V1487.3" stroke="#1a1a1a" stroke-width="1.2" fill="none"/>
<path d="M872.29 1478.4H885.89M872.29 1487.3H885.89" stroke="#141414" stroke-width="1.3" fill="none"/>
<path d="M910.37 1447.2V1461.3" stroke="#1a1a1a" stroke-width="1.2" fill="none"/>
<path d="M903.57 1447.2H917.17M903.57 1461.3H917.17" stroke="#141414" stroke-width="1.3" fill="none"/>
<path d="M928.84 1477V1488.5" stroke="#1a1a1a" stroke-width="1.2" fill="none"/>
<path d="M922.04 1477H935.64M922.04 1488.5H935.64" stroke="#141414" stroke-width="1.3" fill="none"/>
<path d="M947.3 1480.4V1497.7" stroke="#1a1a1a" stroke-width="1.2" fill="none"/>
<path d="M940.5 1480.4H954.1M940.5 1497.7H954.1" stroke="#141414" stroke-width="1.3" fill="none"/>
<path d="M965.77 1490.4V1496.5" stroke="#1a1a1a" stroke-width="1.2" fill="none"/>
<path d="M958.97 1490.4H972.57M958.97 1496.5H972.57" stroke="#141414" stroke-width="1.3" fill="none"/>
<path d="M997.05 1481V1488.6" stroke="#1a1a1a" stroke-width="1.2" fill="none"/>
<path d="M990.25 1481H1003.85M990.25 1488.6H1003.85" stroke="#141414" stroke-width="1.3" fill="none"/>
<path d="M1015.52 1487.1V1491.3" stroke="#1a1a1a" stroke-width="1.2" fill="none"/>
<path d="M1008.72 1487.1H1022.32M1008.72 1491.3H1022.32" stroke="#141414" stroke-width="1.3" fill="none"/>
<path d="M1033.98 1494.6V1501.2" stroke="#1a1a1a" stroke-width="1.2" fill="none"/>
<path d="M1027.18 1494.6H1040.78M1027.18 1501.2H1040.78" stroke="#141414" stroke-width="1.3" fill="none"/>
<path d="M1052.45 1500V1507" stroke="#1a1a1a" stroke-width="1.2" fill="none"/>
<path d="M1045.65 1500H1059.25M1045.65 1507H1059.25" stroke="#141414" stroke-width="1.3" fill="none"/>
<path d="M1083.73 1485.6V1489.3" stroke="#1a1a1a" stroke-width="1.2" fill="none"/>
<path d="M1076.93 1485.6H1090.53M1076.93 1489.3H1090.53" stroke="#141414" stroke-width="1.3" fill="none"/>
<path d="M1102.2 1508.6V1513.5" stroke="#1a1a1a" stroke-width="1.2" fill="none"/>
<path d="M1095.4 1508.6H1109M1095.4 1513.5H1109" stroke="#141414" stroke-width="1.3" fill="none"/>
<path d="M1120.66 1519.9V1525.7" stroke="#1a1a1a" stroke-width="1.2" fill="none"/>
<path d="M1113.86 1519.9H1127.46M1113.86 1525.7H1127.46" stroke="#141414" stroke-width="1.3" fill="none"/>
<path d="M1139.13 1511.5V1519.3" stroke="#1a1a1a" stroke-width="1.2" fill="none"/>
<path d="M1132.33 1511.5H1145.93M1132.33 1519.3H1145.93" stroke="#141414" stroke-width="1.3" fill="none"/>
<text x="130.6" y="1410.7" font-size="24" text-anchor="middle">a</text>
<text x="148.4" y="1425.6" font-size="24" text-anchor="middle">ab</text>
<text x="167" y="1451.3" font-size="24" text-anchor="middle">cd</text>
<text x="185.8" y="1468.5" font-size="24" text-anchor="middle">cde</text>
<text x="217.4" y="1430.6" font-size="24" text-anchor="middle">bc</text>
<text x="235.6" y="1457.4" font-size="24" text-anchor="middle">cd</text>
<text x="254.8" y="1478.6" font-size="24" text-anchor="middle">def</text>
<text x="271.6" y="1490.4" font-size="24" text-anchor="middle">defg</text>
<text x="303.7" y="1467.5" font-size="24" text-anchor="middle">defg</text>
<text x="328.6" y="1446.9" font-size="24" text-anchor="middle">cde</text>
<text x="341.2" y="1481.3" font-size="24" text-anchor="middle">efgh</text>
<text x="359.3" y="1505.1" font-size="24" text-anchor="middle">fgh</text>
<text x="388.4" y="1485.2" font-size="24" text-anchor="middle">fgh</text>
<text x="408.3" y="1509.7" font-size="24" text-anchor="middle">gh</text>
<text x="427" y="1521.2" font-size="24" text-anchor="middle">h</text>
<text x="444.8" y="1496.7" font-size="24" text-anchor="middle">efgh</text>
<text x="477.2" y="1424.5" font-size="24" text-anchor="middle">a</text>
<text x="495.4" y="1443.9" font-size="24" text-anchor="middle">b</text>
<text x="514.1" y="1459.7" font-size="24" text-anchor="middle">c</text>
<text x="532.8" y="1484.7" font-size="24" text-anchor="middle">de</text>
<text x="563.9" y="1441.3" font-size="24" text-anchor="middle">b</text>
<text x="582" y="1461.3" font-size="24" text-anchor="middle">c</text>
<text x="600.4" y="1461.7" font-size="24" text-anchor="middle">c</text>
<text x="620.4" y="1498" font-size="24" text-anchor="middle">ef</text>
<text x="650.6" y="1459.9" font-size="24" text-anchor="middle">c</text>
<text x="668.7" y="1482.9" font-size="24" text-anchor="middle">d</text>
<text x="687.6" y="1487.5" font-size="24" text-anchor="middle">de</text>
<text x="706.6" y="1497.4" font-size="24" text-anchor="middle">ef</text>
<text x="734.1" y="1479.3" font-size="24" text-anchor="middle">de</text>
<text x="755.4" y="1491" font-size="24" text-anchor="middle">de</text>
<text x="774.7" y="1499.7" font-size="24" text-anchor="middle">ef</text>
<text x="793.9" y="1509.7" font-size="24" text-anchor="middle">f</text>
<text x="824.2" y="1422.2" font-size="24" text-anchor="middle">a</text>
<text x="842.7" y="1452.8" font-size="24" text-anchor="middle">bc</text>
<text x="860.2" y="1460.5" font-size="24" text-anchor="middle">c</text>
<text x="879.3" y="1472" font-size="24" text-anchor="middle">d</text>
<text x="910.7" y="1439.8" font-size="24" text-anchor="middle">b</text>
<text x="928.7" y="1470.4" font-size="24" text-anchor="middle">d</text>
<text x="946.9" y="1474" font-size="24" text-anchor="middle">de</text>
<text x="965.4" y="1483.8" font-size="24" text-anchor="middle">def</text>
<text x="997.2" y="1474.4" font-size="24" text-anchor="middle">de</text>
<text x="1015.6" y="1481.3" font-size="24" text-anchor="middle">de</text>
<text x="1035.1" y="1487.4" font-size="24" text-anchor="middle">ef</text>
<text x="1052.4" y="1491.3" font-size="24" text-anchor="middle">fg</text>
<text x="1084" y="1478.5" font-size="24" text-anchor="middle">de</text>
<text x="1102" y="1501.2" font-size="24" text-anchor="middle">gh</text>
<text x="1120.1" y="1512.7" font-size="24" text-anchor="middle">h</text>
<text x="1139" y="1504" font-size="24" text-anchor="middle">gh</text>
<path d="M102.8 1386.6V1599.7H1155.8" stroke="#000" stroke-width="1.8" fill="none"/>
<text x="94" y="1608" font-size="27.5" text-anchor="end">0.0</text>
<line x1="102.8" y1="1557.08" x2="109.3" y2="1557.08" stroke="#000" stroke-width="1.8"/>
<text x="94" y="1565.38" font-size="27.5" text-anchor="end">0.7</text>
<line x1="102.8" y1="1514.46" x2="109.3" y2="1514.46" stroke="#000" stroke-width="1.8"/>
<text x="94" y="1522.76" font-size="27.5" text-anchor="end">1.4</text>
<line x1="102.8" y1="1471.84" x2="109.3" y2="1471.84" stroke="#000" stroke-width="1.8"/>
<text x="94" y="1480.14" font-size="27.5" text-anchor="end">2.1</text>
<line x1="102.8" y1="1429.22" x2="109.3" y2="1429.22" stroke="#000" stroke-width="1.8"/>
<text x="94" y="1437.52" font-size="27.5" text-anchor="end">2.8</text>
<line x1="102.8" y1="1386.6" x2="109.3" y2="1386.6" stroke="#000" stroke-width="1.8"/>
<text x="94" y="1394.9" font-size="27.5" text-anchor="end">3.5</text>
<text x="157.95" y="1629.5" font-size="27.3" text-anchor="middle">BC0</text>
<text x="244.63" y="1629.5" font-size="27.3" text-anchor="middle">BC1</text>
<text x="331.31" y="1629.5" font-size="27.3" text-anchor="middle">BC5</text>
<text x="417.99" y="1629.5" font-size="27.3" text-anchor="middle">BC10</text>
<text x="504.67" y="1629.5" font-size="27.3" text-anchor="middle">BC0</text>
<text x="591.35" y="1629.5" font-size="27.3" text-anchor="middle">BC1</text>
<text x="678.03" y="1629.5" font-size="27.3" text-anchor="middle">BC5</text>
<text x="764.71" y="1629.5" font-size="27.3" text-anchor="middle">BC10</text>
<text x="851.39" y="1629.5" font-size="27.3" text-anchor="middle">BC0</text>
<text x="938.07" y="1629.5" font-size="27.3" text-anchor="middle">BC1</text>
<text x="1024.75" y="1629.5" font-size="27.3" text-anchor="middle">BC5</text>
<text x="1111.43" y="1629.5" font-size="27.3" text-anchor="middle">BC10</text>
<text x="275.8" y="49" font-size="28" text-anchor="middle">Tillering stage</text>
<text x="650.4" y="48.7" font-size="28" text-anchor="middle">Filling stage</text>
<text x="1018.8" y="48.4" font-size="28" text-anchor="middle">Mature stage</text>
<text x="627.4" y="311.8" font-size="28" text-anchor="middle">Leaf</text>
<text x="626" y="572.2" font-size="28" text-anchor="middle">Stem</text>
<text x="626.2" y="833.6" font-size="28" text-anchor="middle">Root</text>
<text x="272.9" y="875.5" font-size="28" text-anchor="middle">Tillering stage</text>
<text x="655.6" y="874.5" font-size="28" text-anchor="middle">Filling stage</text>
<text x="1012.3" y="876.9" font-size="28" text-anchor="middle">Mature stage</text>
<text x="630.2" y="1149.7" font-size="28" text-anchor="middle">Leaf</text>
<text x="629.2" y="1410.2" font-size="28" text-anchor="middle">Stem</text>
<text x="628.7" y="1671.9" font-size="28" text-anchor="middle">Root</text>
<text transform="translate(46.8 393.2) rotate(-90)" font-size="31" text-anchor="middle">Selenium content(mg/kg)</text>
<text transform="translate(50 1233.9) rotate(-90)" font-size="30.5" text-anchor="middle">Cadmium content(mg/kg)</text>
<text x="11" y="37" font-size="37">(a)</text>
<text x="5.5" y="877.5" font-size="37">(b)</text>
<rect x="1158.5" y="27" width="27" height="21.3" fill="#a6ffff" stroke="#333" stroke-width="1"/>
<text x="1191" y="44.5" font-size="21">Se0</text>
<rect x="1158.5" y="52.8" width="27" height="20.9" fill="#3c3cff" stroke="#333" stroke-width="1"/>
<text x="1191" y="70.3" font-size="21">Se5</text>
<rect x="1158.5" y="79" width="27" height="20.1" fill="#ffff00" stroke="#333" stroke-width="1"/>
<text x="1191" y="96.1" font-size="21">Se10</text>
<rect x="1158.5" y="103.7" width="27" height="21" fill="#ff0000" stroke="#333" stroke-width="1"/>
<text x="1191" y="121.3" font-size="21">Se20</text>
<path d="M1160 863V859.5H1162.5" stroke="#aaa" stroke-width="1" fill="none"/>
<path d="M1160.5 975.5V971.5" stroke="#bbb" stroke-width="1" fill="none"/>
</svg>
</body></html>
